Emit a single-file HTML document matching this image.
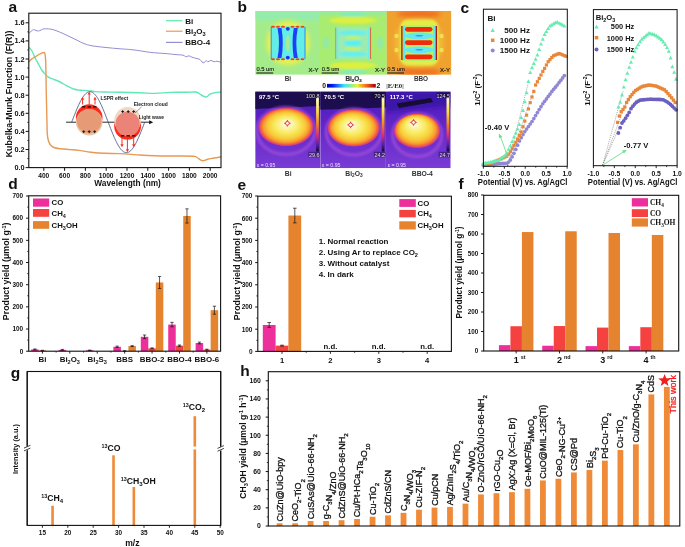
<!DOCTYPE html>
<html><head><meta charset="utf-8"><style>
html,body{margin:0;padding:0;background:#fff;}
svg{display:block;will-change:transform;}
</style></head><body>
<svg width="685" height="547" viewBox="0 0 685 547">
<rect width="685" height="547" fill="#fff"/>
<text x="8.50" y="11.80" font-size="15.5" text-anchor="start" font-weight="bold" fill="#111" font-family='"Liberation Sans", sans-serif' >a</text>
<path d="M28.80,33.30 C29.17,33.00 30.22,32.12 31.00,31.50 C31.78,30.88 32.67,29.77 33.50,29.60 C34.33,29.43 35.17,30.27 36.00,30.50 C36.83,30.73 37.67,31.08 38.50,31.00 C39.33,30.92 40.08,30.35 41.00,30.00 C41.92,29.65 42.50,29.07 44.00,28.90 C45.50,28.73 48.00,28.72 50.00,29.00 C52.00,29.28 53.83,29.85 56.00,30.60 C58.17,31.35 60.67,32.47 63.00,33.50 C65.33,34.53 67.67,35.68 70.00,36.80 C72.33,37.92 74.67,39.07 77.00,40.20 C79.33,41.33 81.50,42.67 84.00,43.60 C86.50,44.53 88.50,45.17 92.00,45.80 C95.50,46.43 100.33,46.90 105.00,47.40 C109.67,47.90 115.33,48.40 120.00,48.80 C124.67,49.20 127.88,49.20 133.00,49.80 C138.12,50.40 145.37,51.78 150.70,52.40 C156.03,53.02 160.95,53.15 165.00,53.50 C169.05,53.85 172.00,54.22 175.00,54.50 C178.00,54.78 181.17,54.82 183.00,55.20 C184.83,55.58 185.00,56.70 186.00,56.80 C187.00,56.90 188.00,55.73 189.00,55.80 C190.00,55.87 190.67,56.73 192.00,57.20 C193.33,57.67 195.67,58.22 197.00,58.60 C198.33,58.98 199.17,58.93 200.00,59.50 C200.83,60.07 201.33,61.45 202.00,62.00 C202.67,62.55 203.33,63.03 204.00,62.80 C204.67,62.57 205.33,60.77 206.00,60.60 C206.67,60.43 207.17,61.83 208.00,61.80 C208.83,61.77 210.00,60.40 211.00,60.40 C212.00,60.40 213.00,61.67 214.00,61.80 C215.00,61.93 215.83,61.10 217.00,61.20 C218.17,61.30 220.33,62.20 221.00,62.40" stroke="#928ed2" stroke-width="1.0" fill="none" />
<path d="M28.90,47.30 C29.42,47.92 30.98,49.25 32.00,51.00 C33.02,52.75 33.83,55.47 35.00,57.80 C36.17,60.13 37.83,62.88 39.00,65.00 C40.17,67.12 41.05,69.07 42.00,70.50 C42.95,71.93 43.70,72.55 44.70,73.60 C45.70,74.65 46.68,75.93 48.00,76.80 C49.32,77.67 50.60,77.93 52.60,78.80 C54.60,79.67 57.77,80.90 60.00,82.00 C62.23,83.10 63.73,84.23 66.00,85.40 C68.27,86.57 71.27,88.20 73.60,89.00 C75.93,89.80 77.67,89.93 80.00,90.20 C82.33,90.47 85.10,90.37 87.60,90.60 C90.10,90.83 92.10,91.37 95.00,91.60 C97.90,91.83 100.83,91.90 105.00,92.00 C109.17,92.10 114.17,92.07 120.00,92.20 C125.83,92.33 134.17,92.60 140.00,92.80 C145.83,93.00 150.00,93.47 155.00,93.40 C160.00,93.33 165.00,92.58 170.00,92.40 C175.00,92.22 180.78,92.37 185.00,92.30 C189.22,92.23 192.97,91.80 195.30,92.00 C197.63,92.20 197.72,92.83 199.00,93.50 C200.28,94.17 201.72,95.43 203.00,96.00 C204.28,96.57 205.53,97.20 206.70,96.90 C207.87,96.60 208.62,94.92 210.00,94.20 C211.38,93.48 213.17,92.97 215.00,92.60 C216.83,92.23 220.00,92.10 221.00,92.00" stroke="#5fe8b4" stroke-width="1.4" fill="none" />
<path d="M28.60,62.20 C29.00,61.77 29.93,60.47 31.00,59.60 C32.07,58.73 33.67,57.85 35.00,57.00 C36.33,56.15 37.68,55.20 39.00,54.50 C40.32,53.80 41.95,53.05 42.90,52.80 C43.85,52.55 44.27,52.13 44.70,53.00 C45.13,53.87 45.30,55.17 45.50,58.00 C45.70,60.83 45.78,64.67 45.90,70.00 C46.02,75.33 46.05,82.50 46.20,90.00 C46.35,97.50 46.62,107.70 46.80,115.00 C46.98,122.30 47.02,129.47 47.30,133.80 C47.58,138.13 47.92,139.10 48.50,141.00 C49.08,142.90 49.88,144.12 50.80,145.20 C51.72,146.28 52.53,146.92 54.00,147.50 C55.47,148.08 56.93,148.35 59.60,148.70 C62.27,149.05 66.80,149.32 70.00,149.60 C73.20,149.88 75.30,149.97 78.80,150.40 C82.30,150.83 86.63,151.72 91.00,152.20 C95.37,152.68 100.17,153.07 105.00,153.30 C109.83,153.53 114.17,153.32 120.00,153.60 C125.83,153.88 134.17,154.65 140.00,155.00 C145.83,155.35 149.17,155.53 155.00,155.70 C160.83,155.87 168.57,155.92 175.00,156.00 C181.43,156.08 189.93,155.95 193.60,156.20 C197.27,156.45 195.93,156.93 197.00,157.50 C198.07,158.07 198.97,159.05 200.00,159.60 C201.03,160.15 202.03,160.82 203.20,160.80 C204.37,160.78 205.53,159.90 207.00,159.50 C208.47,159.10 209.67,158.85 212.00,158.40 C214.33,157.95 219.50,157.07 221.00,156.80" stroke="#e89a55" stroke-width="1.4" fill="none" />
<line x1="66.10" y1="122.20" x2="150.00" y2="122.20" stroke="#111" stroke-width="0.9" />
<path d="M149.2,120.2 L153.2,122.2 L149.2,124.2 Z" stroke="none" stroke-width="1" fill="#111" />
<g>
<circle cx="89.2" cy="117.6" r="13.3" fill="#ff2a1c"/>
<circle cx="89.2" cy="122.2" r="13.2" fill="#e8c4a2"/>
<circle cx="89.2" cy="121.2" r="12.2" fill="#e69a76"/>
<circle cx="127.6" cy="126.2" r="13.4" fill="#ff2a1c"/>
<circle cx="127.6" cy="120.4" r="13.3" fill="#f0d8c4"/>
<circle cx="127.6" cy="124.0" r="12.2" fill="#ec8378"/>
</g>
<path d="M71.70,122.20 L72.31,120.60 L72.92,119.01 L73.53,117.43 L74.13,115.86 L74.74,114.31 L75.35,112.77 L75.96,111.27 L76.57,109.79 L77.17,108.35 L77.78,106.95 L78.39,105.59 L79.00,104.27 L79.61,103.01 L80.22,101.79 L80.83,100.63 L81.43,99.53 L82.04,98.50 L82.65,97.52 L83.26,96.62 L83.87,95.79 L84.48,95.02 L85.08,94.34 L85.69,93.73 L86.30,93.19 L86.91,92.74 L87.52,92.37 L88.12,92.08 L88.73,91.87 L89.34,91.74 L89.95,91.70 L90.56,91.74 L91.17,91.87 L91.78,92.08 L92.38,92.37 L92.99,92.74 L93.60,93.19 L94.21,93.73 L94.82,94.34 L95.43,95.02 L96.03,95.79 L96.64,96.62 L97.25,97.52 L97.86,98.50 L98.47,99.53 L99.08,100.63 L99.68,101.79 L100.29,103.01 L100.90,104.27 L101.51,105.59 L102.12,106.95 L102.72,108.35 L103.33,109.79 L103.94,111.27 L104.55,112.77 L105.16,114.31 L105.77,115.86 L106.38,117.43 L106.98,119.01 L107.59,120.60 L108.20,122.20 L108.81,123.80 L109.42,125.39 L110.03,126.97 L110.63,128.54 L111.24,130.09 L111.85,131.63 L112.46,133.13 L113.07,134.61 L113.68,136.05 L114.28,137.45 L114.89,138.81 L115.50,140.13 L116.11,141.39 L116.72,142.61 L117.33,143.77 L117.93,144.87 L118.54,145.90 L119.15,146.88 L119.76,147.78 L120.37,148.61 L120.97,149.38 L121.58,150.06 L122.19,150.67 L122.80,151.21 L123.41,151.66 L124.02,152.03 L124.62,152.32 L125.23,152.53 L125.84,152.66 L126.45,152.70 L127.06,152.66 L127.67,152.53 L128.28,152.32 L128.88,152.03 L129.49,151.66 L130.10,151.21 L130.71,150.67 L131.32,150.06 L131.93,149.38 L132.53,148.61 L133.14,147.78 L133.75,146.88 L134.36,145.90 L134.97,144.87 L135.57,143.77 L136.18,142.61 L136.79,141.39 L137.40,140.13 L138.01,138.81 L138.62,137.45 L139.23,136.05 L139.83,134.61 L140.44,133.13 L141.05,131.63 L141.66,130.09 L142.27,128.54 L142.88,126.97 L143.48,125.39 L144.09,123.80 L144.70,122.20" stroke="#2d3f73" stroke-width="0.75" fill="none" />
<rect x="81.90" y="106.25" width="3.40" height="1.30" fill="#111" />
<rect x="87.50" y="106.25" width="3.40" height="1.30" fill="#111" />
<rect x="93.10" y="106.25" width="3.40" height="1.30" fill="#111" />
<rect x="120.90" y="135.15" width="3.40" height="1.30" fill="#111" />
<rect x="126.50" y="135.15" width="3.40" height="1.30" fill="#111" />
<rect x="132.10" y="135.15" width="3.40" height="1.30" fill="#111" />
<rect x="82.30" y="131.25" width="2.80" height="0.90" fill="#111" />
<rect x="83.25" y="130.30" width="0.90" height="2.80" fill="#111" />
<rect x="87.80" y="131.25" width="2.80" height="0.90" fill="#111" />
<rect x="88.75" y="130.30" width="0.90" height="2.80" fill="#111" />
<rect x="93.30" y="131.25" width="2.80" height="0.90" fill="#111" />
<rect x="94.25" y="130.30" width="0.90" height="2.80" fill="#111" />
<rect x="121.30" y="111.15" width="2.80" height="0.90" fill="#111" />
<rect x="122.25" y="110.20" width="0.90" height="2.80" fill="#111" />
<rect x="126.80" y="111.15" width="2.80" height="0.90" fill="#111" />
<rect x="127.75" y="110.20" width="0.90" height="2.80" fill="#111" />
<rect x="132.30" y="111.15" width="2.80" height="0.90" fill="#111" />
<rect x="133.25" y="110.20" width="0.90" height="2.80" fill="#111" />
<line x1="82.60" y1="104.50" x2="82.60" y2="99.20" stroke="#ff2a1c" stroke-width="1.0" />
<path d="M81.0,99.7 L82.6,96.7 L84.19999999999999,99.7 Z" stroke="none" stroke-width="1" fill="#ff2a1c" />
<line x1="89.20" y1="104.50" x2="89.20" y2="94.10" stroke="#ff2a1c" stroke-width="1.0" />
<path d="M87.60000000000001,94.6 L89.2,91.6 L90.8,94.6 Z" stroke="none" stroke-width="1" fill="#ff2a1c" />
<line x1="95.00" y1="104.50" x2="95.00" y2="99.20" stroke="#ff2a1c" stroke-width="1.0" />
<path d="M93.4,99.7 L95.0,96.7 L96.6,99.7 Z" stroke="none" stroke-width="1" fill="#ff2a1c" />
<line x1="122.00" y1="137.20" x2="122.00" y2="144.70" stroke="#ff2a1c" stroke-width="1.0" />
<path d="M120.4,144.2 L122.0,147.2 L123.6,144.2 Z" stroke="none" stroke-width="1" fill="#ff2a1c" />
<line x1="127.40" y1="137.20" x2="127.40" y2="149.70" stroke="#ff2a1c" stroke-width="1.0" />
<path d="M125.80000000000001,149.2 L127.4,152.2 L129.0,149.2 Z" stroke="none" stroke-width="1" fill="#ff2a1c" />
<line x1="133.70" y1="137.20" x2="133.70" y2="144.70" stroke="#ff2a1c" stroke-width="1.0" />
<path d="M132.1,144.2 L133.7,147.2 L135.29999999999998,144.2 Z" stroke="none" stroke-width="1" fill="#ff2a1c" />
<text x="100.60" y="100.30" font-size="4.9" text-anchor="start" font-weight="bold" fill="#222" font-family='"Liberation Sans", sans-serif' >LSPR effect</text>
<text x="133.70" y="105.70" font-size="4.9" text-anchor="start" font-weight="bold" fill="#222" font-family='"Liberation Sans", sans-serif' >Electron cloud</text>
<text x="138.80" y="118.50" font-size="4.9" text-anchor="start" font-weight="bold" fill="#222" font-family='"Liberation Sans", sans-serif' >Light wave</text>
<line x1="141.50" y1="107.00" x2="135.00" y2="113.00" stroke="#333" stroke-width="0.5" />
<rect x="28.80" y="13.20" width="192.20" height="154.40" fill="none" stroke="#111" stroke-width="1.1"/>
<line x1="25.60" y1="167.60" x2="28.80" y2="167.60" stroke="#111" stroke-width="1" />
<text x="24.60" y="170.10" font-size="7.3" text-anchor="end" font-weight="bold" fill="#111" font-family='"Liberation Sans", sans-serif' >0.0</text>
<line x1="27.30" y1="158.55" x2="28.80" y2="158.55" stroke="#111" stroke-width="0.8" />
<line x1="25.60" y1="149.50" x2="28.80" y2="149.50" stroke="#111" stroke-width="1" />
<text x="24.60" y="152.00" font-size="7.3" text-anchor="end" font-weight="bold" fill="#111" font-family='"Liberation Sans", sans-serif' >0.2</text>
<line x1="27.30" y1="140.45" x2="28.80" y2="140.45" stroke="#111" stroke-width="0.8" />
<line x1="25.60" y1="131.40" x2="28.80" y2="131.40" stroke="#111" stroke-width="1" />
<text x="24.60" y="133.90" font-size="7.3" text-anchor="end" font-weight="bold" fill="#111" font-family='"Liberation Sans", sans-serif' >0.4</text>
<line x1="27.30" y1="122.35" x2="28.80" y2="122.35" stroke="#111" stroke-width="0.8" />
<line x1="25.60" y1="113.30" x2="28.80" y2="113.30" stroke="#111" stroke-width="1" />
<text x="24.60" y="115.80" font-size="7.3" text-anchor="end" font-weight="bold" fill="#111" font-family='"Liberation Sans", sans-serif' >0.6</text>
<line x1="27.30" y1="104.25" x2="28.80" y2="104.25" stroke="#111" stroke-width="0.8" />
<line x1="25.60" y1="95.20" x2="28.80" y2="95.20" stroke="#111" stroke-width="1" />
<text x="24.60" y="97.70" font-size="7.3" text-anchor="end" font-weight="bold" fill="#111" font-family='"Liberation Sans", sans-serif' >0.8</text>
<line x1="27.30" y1="86.15" x2="28.80" y2="86.15" stroke="#111" stroke-width="0.8" />
<line x1="25.60" y1="77.10" x2="28.80" y2="77.10" stroke="#111" stroke-width="1" />
<text x="24.60" y="79.60" font-size="7.3" text-anchor="end" font-weight="bold" fill="#111" font-family='"Liberation Sans", sans-serif' >1.0</text>
<line x1="27.30" y1="68.05" x2="28.80" y2="68.05" stroke="#111" stroke-width="0.8" />
<line x1="25.60" y1="59.00" x2="28.80" y2="59.00" stroke="#111" stroke-width="1" />
<text x="24.60" y="61.50" font-size="7.3" text-anchor="end" font-weight="bold" fill="#111" font-family='"Liberation Sans", sans-serif' >1.2</text>
<line x1="27.30" y1="49.95" x2="28.80" y2="49.95" stroke="#111" stroke-width="0.8" />
<line x1="25.60" y1="40.90" x2="28.80" y2="40.90" stroke="#111" stroke-width="1" />
<text x="24.60" y="43.40" font-size="7.3" text-anchor="end" font-weight="bold" fill="#111" font-family='"Liberation Sans", sans-serif' >1.4</text>
<line x1="27.30" y1="31.85" x2="28.80" y2="31.85" stroke="#111" stroke-width="0.8" />
<line x1="25.60" y1="22.80" x2="28.80" y2="22.80" stroke="#111" stroke-width="1" />
<text x="24.60" y="25.30" font-size="7.3" text-anchor="end" font-weight="bold" fill="#111" font-family='"Liberation Sans", sans-serif' >1.6</text>
<line x1="43.80" y1="167.60" x2="43.80" y2="170.80" stroke="#111" stroke-width="1" />
<text x="43.80" y="177.90" font-size="6.6" text-anchor="middle" font-weight="bold" fill="#111" font-family='"Liberation Sans", sans-serif' >400</text>
<line x1="64.60" y1="167.60" x2="64.60" y2="170.80" stroke="#111" stroke-width="1" />
<text x="64.60" y="177.90" font-size="6.6" text-anchor="middle" font-weight="bold" fill="#111" font-family='"Liberation Sans", sans-serif' >600</text>
<line x1="85.40" y1="167.60" x2="85.40" y2="170.80" stroke="#111" stroke-width="1" />
<text x="85.40" y="177.90" font-size="6.6" text-anchor="middle" font-weight="bold" fill="#111" font-family='"Liberation Sans", sans-serif' >800</text>
<line x1="106.20" y1="167.60" x2="106.20" y2="170.80" stroke="#111" stroke-width="1" />
<text x="106.20" y="177.90" font-size="6.6" text-anchor="middle" font-weight="bold" fill="#111" font-family='"Liberation Sans", sans-serif' >1000</text>
<line x1="127.00" y1="167.60" x2="127.00" y2="170.80" stroke="#111" stroke-width="1" />
<text x="127.00" y="177.90" font-size="6.6" text-anchor="middle" font-weight="bold" fill="#111" font-family='"Liberation Sans", sans-serif' >1200</text>
<line x1="147.80" y1="167.60" x2="147.80" y2="170.80" stroke="#111" stroke-width="1" />
<text x="147.80" y="177.90" font-size="6.6" text-anchor="middle" font-weight="bold" fill="#111" font-family='"Liberation Sans", sans-serif' >1400</text>
<line x1="168.60" y1="167.60" x2="168.60" y2="170.80" stroke="#111" stroke-width="1" />
<text x="168.60" y="177.90" font-size="6.6" text-anchor="middle" font-weight="bold" fill="#111" font-family='"Liberation Sans", sans-serif' >1600</text>
<line x1="189.40" y1="167.60" x2="189.40" y2="170.80" stroke="#111" stroke-width="1" />
<text x="189.40" y="177.90" font-size="6.6" text-anchor="middle" font-weight="bold" fill="#111" font-family='"Liberation Sans", sans-serif' >1800</text>
<line x1="210.20" y1="167.60" x2="210.20" y2="170.80" stroke="#111" stroke-width="1" />
<text x="210.20" y="177.90" font-size="6.6" text-anchor="middle" font-weight="bold" fill="#111" font-family='"Liberation Sans", sans-serif' >2000</text>
<text x="127.60" y="186.30" font-size="8.3" text-anchor="middle" font-weight="bold" fill="#111" font-family='"Liberation Sans", sans-serif' >Wavelength (nm)</text>
<text x="0.00" y="0.00" font-size="8.9" text-anchor="middle" font-weight="bold" fill="#111" font-family='"Liberation Sans", sans-serif' transform="translate(11.6,94.0) rotate(-90)">Kubelka-Munk Function (F(R))</text>
<line x1="166.00" y1="20.70" x2="182.50" y2="20.70" stroke="#5fe8b4" stroke-width="1.2" />
<line x1="166.00" y1="31.20" x2="182.50" y2="31.20" stroke="#e89a55" stroke-width="1.2" />
<line x1="166.00" y1="42.40" x2="182.50" y2="42.40" stroke="#928ed2" stroke-width="1.2" />
<text x="185.20" y="23.70" font-size="8.0" text-anchor="start" font-weight="bold" fill="#111" font-family='"Liberation Sans", sans-serif' >Bi</text>
<text x="185.20" y="34.20" font-size="8.0" text-anchor="start" font-weight="bold" fill="#111" font-family='"Liberation Sans", sans-serif' >Bi<tspan font-size="5.6" dy="2.2">2</tspan><tspan dy="-2.2">O</tspan><tspan font-size="5.6" dy="2.2">3</tspan></text>
<text x="185.20" y="45.40" font-size="8.0" text-anchor="start" font-weight="bold" fill="#111" font-family='"Liberation Sans", sans-serif' >BBO-4</text>
<defs>
<radialGradient id="halo1" cx="50%" cy="50%" r="50%"><stop offset="0" stop-color="#e8f050"/><stop offset="0.62" stop-color="#e4f058"/><stop offset="1" stop-color="#a6ec88" stop-opacity="0"/></radialGradient>
<linearGradient id="cbar" x1="0" x2="1" y1="0" y2="0"><stop offset="0" stop-color="#0000a0"/><stop offset="0.12" stop-color="#0020ff"/><stop offset="0.35" stop-color="#40e0ff"/><stop offset="0.5" stop-color="#90f090"/><stop offset="0.62" stop-color="#f0f030"/><stop offset="0.8" stop-color="#f07018"/><stop offset="1" stop-color="#a00010"/></linearGradient>
<radialGradient id="hot" cx="50%" cy="50%" r="50%" fx="52%" fy="38%"><stop offset="0" stop-color="#fffff4"/><stop offset="0.18" stop-color="#fdf6b4"/><stop offset="0.46" stop-color="#f8e858"/><stop offset="0.68" stop-color="#f8c838"/><stop offset="0.82" stop-color="#f89a30"/><stop offset="0.91" stop-color="#f06040"/><stop offset="0.97" stop-color="#c83898"/><stop offset="1" stop-color="#8830c8" stop-opacity="0.3"/></radialGradient>
<linearGradient id="tbar" x1="0" x2="0" y1="0" y2="1"><stop offset="0" stop-color="#ffffd0"/><stop offset="0.25" stop-color="#f8e040"/><stop offset="0.5" stop-color="#f08020"/><stop offset="0.7" stop-color="#d03080"/><stop offset="0.88" stop-color="#5020a0"/><stop offset="1" stop-color="#100830"/></linearGradient>
<radialGradient id="bbohalo" cx="50%" cy="50%" r="50%"><stop offset="0" stop-color="#f0e040"/><stop offset="0.7" stop-color="#f0c040"/><stop offset="1" stop-color="#f0a030" stop-opacity="0"/></radialGradient>
<radialGradient id="cyanlens" cx="50%" cy="50%" r="50%"><stop offset="0" stop-color="#50b8ff"/><stop offset="0.3" stop-color="#60e8f0"/><stop offset="0.8" stop-color="#80f0c8"/><stop offset="1" stop-color="#b0f070" stop-opacity="0"/></radialGradient>
<linearGradient id="tbg" x1="0" x2="0" y1="0" y2="1"><stop offset="0" stop-color="#4a18b8"/><stop offset="0.6" stop-color="#6a2ccc"/><stop offset="1" stop-color="#7a3cd4"/></linearGradient>
<filter id="blur1" x="-20%" y="-20%" width="140%" height="140%"><feGaussianBlur stdDeviation="1.2"/></filter>
<filter id="blur05" x="-20%" y="-20%" width="140%" height="140%"><feGaussianBlur stdDeviation="0.5"/></filter>
<filter id="blur2" x="-30%" y="-30%" width="160%" height="160%"><feGaussianBlur stdDeviation="2.2"/></filter>
<clipPath id="m1"><rect x="255.2" y="11" width="65.2" height="63.8"/></clipPath>
<clipPath id="m2"><rect x="319.6" y="11" width="67.3" height="63.8"/></clipPath>
<clipPath id="m3"><rect x="386.5" y="11" width="64.9" height="63.8"/></clipPath>
<clipPath id="t1"><rect x="255.2" y="91.4" width="65.5" height="76.8"/></clipPath>
<clipPath id="t2"><rect x="320.1" y="91.4" width="66.1" height="76.8"/></clipPath>
<clipPath id="t3"><rect x="385.9" y="91.4" width="64.8" height="76.8"/></clipPath>
</defs>
<text x="237.60" y="12.20" font-size="15.5" text-anchor="start" font-weight="bold" fill="#111" font-family='"Liberation Sans", sans-serif' >b</text>
<g clip-path="url(#m1)">
<rect x="255.20" y="11.00" width="65.20" height="63.80" fill="#a4ec8a" />
<rect x="255.20" y="11.00" width="64.60" height="9.00" fill="#92ecb0" filter="url(#blur2)"/>
<ellipse cx="288" cy="43" rx="26" ry="28" fill="url(#halo1)"/>
<ellipse cx="288" cy="43" rx="21" ry="21" fill="#e6f050" filter="url(#blur2)"/>
<g filter="url(#blur05)">
<rect x="270.90" y="26.30" width="34.40" height="33.20" fill="#62eee6" />
<path d="M277.5,28 Q280.5,43 277.5,58 L281.5,58 Q284,43 281.5,28 Z" stroke="none" stroke-width="1" fill="#1a40f8" />
<path d="M297.8,28 Q294.8,43 297.8,58 L293.8,58 Q291.3,43 293.8,28 Z" stroke="none" stroke-width="1" fill="#1a40f8" />
<ellipse cx="287.8" cy="43.5" rx="1.8" ry="8.5" fill="#a8ec90"/>
<circle cx="287.8" cy="28.8" r="1.9" fill="#1a30f0"/><circle cx="287.8" cy="57.6" r="1.9" fill="#1a30f0"/>
<ellipse cx="273" cy="26.8" rx="2" ry="1" fill="#f04018"/><ellipse cx="273" cy="59.2" rx="2" ry="1" fill="#f04018"/>
<ellipse cx="278" cy="26.8" rx="2" ry="1" fill="#f04018"/><ellipse cx="278" cy="59.2" rx="2" ry="1" fill="#f04018"/>
<ellipse cx="283" cy="26.8" rx="2" ry="1" fill="#f04018"/><ellipse cx="283" cy="59.2" rx="2" ry="1" fill="#f04018"/>
<ellipse cx="292.5" cy="26.8" rx="2" ry="1" fill="#f04018"/><ellipse cx="292.5" cy="59.2" rx="2" ry="1" fill="#f04018"/>
<ellipse cx="297.5" cy="26.8" rx="2" ry="1" fill="#f04018"/><ellipse cx="297.5" cy="59.2" rx="2" ry="1" fill="#f04018"/>
<ellipse cx="302.5" cy="26.8" rx="2" ry="1" fill="#f04018"/><ellipse cx="302.5" cy="59.2" rx="2" ry="1" fill="#f04018"/>
<line x1="271.20" y1="27.00" x2="271.20" y2="59.00" stroke="#2060f0" stroke-width="0.7" />
<line x1="305.00" y1="27.00" x2="305.00" y2="59.00" stroke="#2060f0" stroke-width="0.7" />
</g></g>
<g clip-path="url(#m2)">
<rect x="319.60" y="11.00" width="67.30" height="63.80" fill="#a8ec72" />
<g filter="url(#blur1)">
<rect x="319.80" y="11.00" width="66.70" height="4.00" fill="#98ec98" />
<ellipse cx="353" cy="14.5" rx="14" ry="2" fill="#80ecc0"/>
<ellipse cx="353" cy="72" rx="14" ry="2" fill="#80ecc0"/>
<ellipse cx="353" cy="20.5" rx="24" ry="3.4" fill="#dcf040"/>
<ellipse cx="353" cy="65.5" rx="24" ry="3.4" fill="#dcf040"/>
<rect x="336.50" y="27.50" width="33.50" height="31.50" fill="#9cecb0" />
<ellipse cx="353" cy="33.0" rx="15" ry="3.0" fill="#6aeee8"/>
<ellipse cx="353" cy="54.0" rx="15" ry="3.0" fill="#6aeee8"/>
<ellipse cx="353" cy="43.3" rx="9" ry="3.2" fill="#5ceef0"/>
<ellipse cx="353" cy="37.8" rx="8" ry="1.8" fill="#c8f058"/>
<ellipse cx="353" cy="49.0" rx="8" ry="1.8" fill="#c8f058"/>
<ellipse cx="326" cy="43" rx="3" ry="6" fill="#90eaa8"/><ellipse cx="380" cy="43" rx="3" ry="6" fill="#90eaa8"/>
</g>
<rect x="336.30" y="27.50" width="2.20" height="31.50" fill="#70eee8" />
<rect x="368.00" y="27.50" width="2.20" height="31.50" fill="#70eee8" />
<line x1="335.70" y1="27.50" x2="335.70" y2="59.00" stroke="#f07030" stroke-width="0.8" />
<line x1="370.60" y1="27.50" x2="370.60" y2="59.00" stroke="#f04020" stroke-width="0.8" />
</g>
<g clip-path="url(#m3)">
<rect x="386.50" y="11.00" width="64.90" height="63.80" fill="#f0a22e" />
<g filter="url(#blur2)">
<ellipse cx="419" cy="14" rx="22" ry="4" fill="#f07020"/>
<ellipse cx="419" cy="72" rx="22" ry="4" fill="#f07020"/>
<ellipse cx="419" cy="43" rx="25" ry="25" fill="#f0b838"/>
</g>
<g filter="url(#blur05)">
</g>
<rect x="400.00" y="19.50" width="38.40" height="46.00" fill="#e4ec48" rx="8" filter="url(#blur1)"/>
<g filter="url(#blur05)">
<rect x="402.50" y="25.00" width="33.40" height="36.00" fill="#b8f068" />
<ellipse cx="419.2" cy="35.8" rx="14.5" ry="3.4" fill="#64e8f0"/>
<ellipse cx="419.2" cy="49.8" rx="14.5" ry="3.4" fill="#64e8f0"/>
<ellipse cx="419.2" cy="35.8" rx="4" ry="0.8" fill="#3890ff"/>
<ellipse cx="419.2" cy="49.8" rx="4" ry="0.8" fill="#3890ff"/>
<rect x="403.00" y="26.00" width="2.20" height="34.00" fill="#60e8f0" />
<rect x="433.20" y="26.00" width="2.20" height="34.00" fill="#60e8f0" />
<rect x="405.00" y="26.90" width="27.50" height="4.80" fill="#f22a0a" rx="2.4"/>
<rect x="405.00" y="40.20" width="27.50" height="4.80" fill="#f22a0a" rx="2.4"/>
<rect x="405.00" y="54.40" width="27.50" height="4.80" fill="#f22a0a" rx="2.4"/>
<circle cx="396.5" cy="36" r="2.2" fill="#f0e050"/><circle cx="441.5" cy="36" r="2.2" fill="#f0e050"/>
<circle cx="396.5" cy="50" r="2.2" fill="#f0e050"/><circle cx="441.5" cy="50" r="2.2" fill="#f0e050"/>
</g>
<line x1="401.90" y1="26.00" x2="401.90" y2="60.00" stroke="#a01010" stroke-width="1.3" />
<line x1="436.30" y1="26.00" x2="436.30" y2="60.00" stroke="#a01010" stroke-width="1.3" />
</g>
<text x="256.40" y="71.20" font-size="5.8" text-anchor="start" font-weight="normal" fill="#222" font-family='"Liberation Sans", sans-serif' stroke="#222" stroke-width="0.15">0.5 um</text>
<line x1="256.40" y1="73.00" x2="273.20" y2="73.00" stroke="#222" stroke-width="1.1" />
<text x="318.60" y="72.20" font-size="6.0" text-anchor="end" font-weight="normal" fill="#222" font-family='"Liberation Sans", sans-serif' stroke="#222" stroke-width="0.2">X-Y</text>
<text x="321.70" y="71.20" font-size="5.8" text-anchor="start" font-weight="normal" fill="#222" font-family='"Liberation Sans", sans-serif' stroke="#222" stroke-width="0.15">0.5 um</text>
<line x1="321.70" y1="73.00" x2="338.50" y2="73.00" stroke="#222" stroke-width="1.1" />
<text x="385.00" y="72.20" font-size="6.0" text-anchor="end" font-weight="normal" fill="#222" font-family='"Liberation Sans", sans-serif' stroke="#222" stroke-width="0.2">X-Y</text>
<text x="387.20" y="71.20" font-size="5.8" text-anchor="start" font-weight="normal" fill="#222" font-family='"Liberation Sans", sans-serif' stroke="#222" stroke-width="0.15">0.5 um</text>
<line x1="387.20" y1="73.00" x2="404.00" y2="73.00" stroke="#222" stroke-width="1.1" />
<text x="450.00" y="72.20" font-size="6.0" text-anchor="end" font-weight="normal" fill="#222" font-family='"Liberation Sans", sans-serif' stroke="#222" stroke-width="0.2">X-Y</text>
<text x="287.90" y="81.40" font-size="6.4" text-anchor="middle" font-weight="bold" fill="#333" font-family='"Liberation Sans", sans-serif' >Bi</text>
<text x="353.60" y="81.00" font-size="6.4" text-anchor="middle" font-weight="bold" fill="#333" font-family='"Liberation Sans", sans-serif' stroke="#333" stroke-width="0.2">Bi<tspan font-size="4.4" dy="1.4">2</tspan><tspan dy="-1.4">O</tspan><tspan font-size="4.4" dy="1.4">3</tspan></text>
<text x="421.00" y="81.00" font-size="6.4" text-anchor="middle" font-weight="bold" fill="#333" font-family='"Liberation Sans", sans-serif' >BBO</text>
<text x="324.20" y="88.00" font-size="6.8" text-anchor="middle" font-weight="bold" fill="#111" font-family='"Liberation Sans", sans-serif' >0</text>
<rect x="327.00" y="83.90" width="48.80" height="3.70" fill="url(#cbar)" />
<text x="378.50" y="88.00" font-size="6.8" text-anchor="middle" font-weight="bold" fill="#111" font-family='"Liberation Sans", sans-serif' >2</text>
<text x="386.30" y="88.20" font-size="6.8" text-anchor="start" font-weight="bold" fill="#222" font-family='"Liberation Serif", serif' >|E/E0|</text>
<g clip-path="url(#t1)">
<rect x="255.20" y="91.40" width="65.10" height="76.80" fill="url(#tbg)" />
<path d="M255.2,91.4 L320.3,91.4 L320.3,106 L255.2,109 Z" stroke="none" stroke-width="1" fill="#1c1050" filter="url(#blur05)"/>
<ellipse cx="286.0" cy="131.0" rx="29.0" ry="23.5" fill="none" stroke="#a050d8" stroke-width="3.5" opacity="0.7" filter="url(#blur1)"/>
<defs><radialGradient id="hott1" cx="50%" cy="50%" r="50%" fx="52.5%" fy="40.5%"><stop offset="0" stop-color="#fffff4"/><stop offset="0.18" stop-color="#fdf6b4"/><stop offset="0.46" stop-color="#f8e858"/><stop offset="0.68" stop-color="#f8c838"/><stop offset="0.82" stop-color="#f89a30"/><stop offset="0.91" stop-color="#f06040"/><stop offset="0.97" stop-color="#c83898"/><stop offset="1" stop-color="#8830c8" stop-opacity="0.3"/></radialGradient></defs>
<ellipse cx="286.0" cy="127.0" rx="28.0" ry="19.5" fill="url(#hott1)"/>
<circle cx="287.4" cy="123.3" r="1.9" fill="none" stroke="#e02040" stroke-width="0.9"/>
<line x1="287.40" y1="121.40" x2="287.40" y2="120.00" stroke="#e02040" stroke-width="0.8" />
<line x1="287.40" y1="125.20" x2="287.40" y2="126.60" stroke="#e02040" stroke-width="0.8" />
<line x1="285.50" y1="123.30" x2="284.10" y2="123.30" stroke="#e02040" stroke-width="0.8" />
<line x1="289.30" y1="123.30" x2="290.70" y2="123.30" stroke="#e02040" stroke-width="0.8" />
<rect x="316.10" y="98.00" width="2.80" height="53.50" fill="url(#tbar)" />
<text x="259.00" y="99.30" font-size="6.0" text-anchor="start" font-weight="bold" fill="#fff" font-family='"Liberation Sans", sans-serif' >97.5 °C</text>
<rect x="306.30" y="92.50" width="13.50" height="5.60" fill="#181030" opacity="0.8"/>
<text x="319.50" y="97.60" font-size="5.4" text-anchor="end" font-weight="normal" fill="#ddd" font-family='"Liberation Sans", sans-serif' >100.8</text>
<rect x="308.30" y="151.80" width="11.50" height="5.60" fill="#181030" opacity="0.5"/>
<text x="319.50" y="156.60" font-size="5.4" text-anchor="end" font-weight="normal" fill="#ddd" font-family='"Liberation Sans", sans-serif' >29.6</text>
<text x="257.00" y="167.20" font-size="5.2" text-anchor="start" font-weight="normal" fill="#e8e0ff" font-family='"Liberation Sans", sans-serif' >ε = 0.95</text>
</g>
<g clip-path="url(#t2)">
<rect x="320.30" y="91.40" width="65.60" height="76.80" fill="url(#tbg)" />
<path d="M320.3,91.4 L385.9,91.4 L385.9,107.6 L320.3,109.7 Z" stroke="none" stroke-width="1" fill="#1c1050" filter="url(#blur05)"/>
<ellipse cx="353.8" cy="132.0" rx="27.5" ry="22.9" fill="none" stroke="#a050d8" stroke-width="3.5" opacity="0.7" filter="url(#blur1)"/>
<defs><radialGradient id="hott2" cx="50%" cy="50%" r="50%" fx="44.0%" fy="41.8%"><stop offset="0" stop-color="#fffff4"/><stop offset="0.18" stop-color="#fdf6b4"/><stop offset="0.46" stop-color="#f8e858"/><stop offset="0.68" stop-color="#f8c838"/><stop offset="0.82" stop-color="#f89a30"/><stop offset="0.91" stop-color="#f06040"/><stop offset="0.97" stop-color="#c83898"/><stop offset="1" stop-color="#8830c8" stop-opacity="0.3"/></radialGradient></defs>
<ellipse cx="353.8" cy="128.0" rx="26.5" ry="18.9" fill="url(#hott2)"/>
<circle cx="350.6" cy="124.9" r="1.9" fill="none" stroke="#e02040" stroke-width="0.9"/>
<line x1="350.60" y1="123.00" x2="350.60" y2="121.60" stroke="#e02040" stroke-width="0.8" />
<line x1="350.60" y1="126.80" x2="350.60" y2="128.20" stroke="#e02040" stroke-width="0.8" />
<line x1="348.70" y1="124.90" x2="347.30" y2="124.90" stroke="#e02040" stroke-width="0.8" />
<line x1="352.50" y1="124.90" x2="353.90" y2="124.90" stroke="#e02040" stroke-width="0.8" />
<rect x="381.70" y="98.00" width="2.80" height="53.50" fill="url(#tbar)" />
<text x="324.10" y="99.30" font-size="6.0" text-anchor="start" font-weight="bold" fill="#fff" font-family='"Liberation Sans", sans-serif' >70.5 °C</text>
<rect x="371.90" y="92.50" width="13.50" height="5.60" fill="#181030" opacity="0.8"/>
<text x="385.10" y="97.60" font-size="5.4" text-anchor="end" font-weight="normal" fill="#ddd" font-family='"Liberation Sans", sans-serif' >70.5</text>
<rect x="373.90" y="151.80" width="11.50" height="5.60" fill="#181030" opacity="0.5"/>
<text x="385.10" y="156.60" font-size="5.4" text-anchor="end" font-weight="normal" fill="#ddd" font-family='"Liberation Sans", sans-serif' >24.2</text>
<text x="322.10" y="167.20" font-size="5.2" text-anchor="start" font-weight="normal" fill="#e8e0ff" font-family='"Liberation Sans", sans-serif' >ε = 0.95</text>
</g>
<g clip-path="url(#t3)">
<rect x="385.90" y="91.40" width="64.80" height="76.80" fill="url(#tbg)" />
<path d="M385.9,91.4 L450.7,91.4 L450.7,105.4 L385.9,111.4 Z" stroke="none" stroke-width="1" fill="#3a18a8" filter="url(#blur2)"/>
<path d="M396.9,103.4 L430.9,97.9 L432.9,101.9 L398.9,107.9 Z" stroke="none" stroke-width="1" fill="#140a30" filter="url(#blur05)"/>
<ellipse cx="417.2" cy="135.0" rx="24.5" ry="21.5" fill="none" stroke="#a050d8" stroke-width="3.5" opacity="0.7" filter="url(#blur1)"/>
<defs><radialGradient id="hott3" cx="50%" cy="50%" r="50%" fx="42.1%" fy="25.4%"><stop offset="0" stop-color="#fffff4"/><stop offset="0.18" stop-color="#fdf6b4"/><stop offset="0.46" stop-color="#f8e858"/><stop offset="0.68" stop-color="#f8c838"/><stop offset="0.82" stop-color="#f89a30"/><stop offset="0.91" stop-color="#f06040"/><stop offset="0.97" stop-color="#c83898"/><stop offset="1" stop-color="#8830c8" stop-opacity="0.3"/></radialGradient></defs>
<ellipse cx="417.2" cy="131.0" rx="23.5" ry="17.5" fill="url(#hott3)"/>
<circle cx="413.5" cy="122.4" r="1.9" fill="none" stroke="#e02040" stroke-width="0.9"/>
<line x1="413.50" y1="120.50" x2="413.50" y2="119.10" stroke="#e02040" stroke-width="0.8" />
<line x1="413.50" y1="124.30" x2="413.50" y2="125.70" stroke="#e02040" stroke-width="0.8" />
<line x1="411.60" y1="122.40" x2="410.20" y2="122.40" stroke="#e02040" stroke-width="0.8" />
<line x1="415.40" y1="122.40" x2="416.80" y2="122.40" stroke="#e02040" stroke-width="0.8" />
<rect x="446.50" y="98.00" width="2.80" height="53.50" fill="url(#tbar)" />
<text x="389.70" y="99.30" font-size="6.0" text-anchor="start" font-weight="bold" fill="#fff" font-family='"Liberation Sans", sans-serif' >117.3 °C</text>
<rect x="436.70" y="92.50" width="13.50" height="5.60" fill="#181030" opacity="0.8"/>
<text x="449.90" y="97.60" font-size="5.4" text-anchor="end" font-weight="normal" fill="#ddd" font-family='"Liberation Sans", sans-serif' >124.5</text>
<rect x="438.70" y="151.80" width="11.50" height="5.60" fill="#181030" opacity="0.5"/>
<text x="449.90" y="156.60" font-size="5.4" text-anchor="end" font-weight="normal" fill="#ddd" font-family='"Liberation Sans", sans-serif' >24.7</text>
<text x="387.70" y="167.20" font-size="5.2" text-anchor="start" font-weight="normal" fill="#e8e0ff" font-family='"Liberation Sans", sans-serif' >ε = 0.95</text>
</g>
<text x="288.20" y="176.00" font-size="6.8" text-anchor="middle" font-weight="bold" fill="#333" font-family='"Liberation Sans", sans-serif' >Bi</text>
<text x="354.00" y="176.00" font-size="6.8" text-anchor="middle" font-weight="bold" fill="#333" font-family='"Liberation Sans", sans-serif' >Bi<tspan font-size="4.8" dy="1.4">2</tspan><tspan dy="-1.4">O</tspan><tspan font-size="4.8" dy="1.4">3</tspan></text>
<text x="422.30" y="176.00" font-size="6.8" text-anchor="middle" font-weight="bold" fill="#333" font-family='"Liberation Sans", sans-serif' >BBO-4</text>
<text x="460.60" y="13.30" font-size="15.5" text-anchor="start" font-weight="bold" fill="#111" font-family='"Liberation Sans", sans-serif' >c</text>
<line x1="507.50" y1="166.00" x2="528.00" y2="84.00" stroke="#555" stroke-width="0.5" stroke-dasharray="1,1"/>
<line x1="507.50" y1="166.00" x2="534.00" y2="90.00" stroke="#555" stroke-width="0.5" stroke-dasharray="1,1"/>
<line x1="507.50" y1="166.00" x2="526.00" y2="120.00" stroke="#555" stroke-width="0.5" stroke-dasharray="1,1"/>
<circle cx="483.40" cy="165.20" r="1.85" fill="#9088d4"/>
<circle cx="485.20" cy="165.01" r="1.85" fill="#9088d4"/>
<circle cx="487.00" cy="164.82" r="1.85" fill="#9088d4"/>
<circle cx="488.80" cy="164.63" r="1.85" fill="#9088d4"/>
<circle cx="490.60" cy="164.44" r="1.85" fill="#9088d4"/>
<circle cx="492.40" cy="164.25" r="1.85" fill="#9088d4"/>
<circle cx="494.20" cy="164.07" r="1.85" fill="#9088d4"/>
<circle cx="496.00" cy="163.89" r="1.85" fill="#9088d4"/>
<circle cx="497.80" cy="163.70" r="1.85" fill="#9088d4"/>
<circle cx="499.60" cy="163.56" r="1.85" fill="#9088d4"/>
<circle cx="501.40" cy="163.48" r="1.85" fill="#9088d4"/>
<circle cx="503.20" cy="163.40" r="1.85" fill="#9088d4"/>
<circle cx="505.00" cy="163.32" r="1.85" fill="#9088d4"/>
<circle cx="506.80" cy="163.24" r="1.85" fill="#9088d4"/>
<circle cx="508.60" cy="162.02" r="1.85" fill="#9088d4"/>
<circle cx="510.40" cy="159.91" r="1.85" fill="#9088d4"/>
<circle cx="512.20" cy="156.87" r="1.85" fill="#9088d4"/>
<circle cx="514.00" cy="153.37" r="1.85" fill="#9088d4"/>
<circle cx="515.80" cy="149.38" r="1.85" fill="#9088d4"/>
<circle cx="517.60" cy="145.16" r="1.85" fill="#9088d4"/>
<circle cx="519.40" cy="140.94" r="1.85" fill="#9088d4"/>
<circle cx="521.20" cy="137.63" r="1.85" fill="#9088d4"/>
<circle cx="523.00" cy="134.58" r="1.85" fill="#9088d4"/>
<circle cx="524.80" cy="131.54" r="1.85" fill="#9088d4"/>
<circle cx="526.60" cy="128.98" r="1.85" fill="#9088d4"/>
<circle cx="528.40" cy="126.49" r="1.85" fill="#9088d4"/>
<circle cx="530.20" cy="123.99" r="1.85" fill="#9088d4"/>
<circle cx="532.00" cy="121.50" r="1.85" fill="#9088d4"/>
<circle cx="533.80" cy="118.53" r="1.85" fill="#9088d4"/>
<circle cx="535.60" cy="115.56" r="1.85" fill="#9088d4"/>
<circle cx="537.40" cy="112.58" r="1.85" fill="#9088d4"/>
<circle cx="539.20" cy="109.61" r="1.85" fill="#9088d4"/>
<circle cx="541.00" cy="106.64" r="1.85" fill="#9088d4"/>
<circle cx="542.80" cy="103.73" r="1.85" fill="#9088d4"/>
<circle cx="544.60" cy="101.31" r="1.85" fill="#9088d4"/>
<circle cx="546.40" cy="98.88" r="1.85" fill="#9088d4"/>
<circle cx="548.20" cy="96.46" r="1.85" fill="#9088d4"/>
<circle cx="550.00" cy="94.04" r="1.85" fill="#9088d4"/>
<circle cx="551.80" cy="91.62" r="1.85" fill="#9088d4"/>
<circle cx="553.60" cy="89.30" r="1.85" fill="#9088d4"/>
<circle cx="555.40" cy="87.20" r="1.85" fill="#9088d4"/>
<circle cx="557.20" cy="85.01" r="1.85" fill="#9088d4"/>
<circle cx="559.00" cy="82.66" r="1.85" fill="#9088d4"/>
<circle cx="560.80" cy="80.30" r="1.85" fill="#9088d4"/>
<circle cx="562.60" cy="77.95" r="1.85" fill="#9088d4"/>
<circle cx="564.40" cy="75.59" r="1.85" fill="#9088d4"/>
<rect x="481.80" y="162.90" width="3.20" height="3.20" fill="#e8873a" />
<rect x="483.60" y="162.65" width="3.20" height="3.20" fill="#e8873a" />
<rect x="485.40" y="162.41" width="3.20" height="3.20" fill="#e8873a" />
<rect x="487.20" y="162.16" width="3.20" height="3.20" fill="#e8873a" />
<rect x="489.00" y="161.75" width="3.20" height="3.20" fill="#e8873a" />
<rect x="490.80" y="161.00" width="3.20" height="3.20" fill="#e8873a" />
<rect x="492.60" y="160.26" width="3.20" height="3.20" fill="#e8873a" />
<rect x="494.40" y="159.51" width="3.20" height="3.20" fill="#e8873a" />
<rect x="496.20" y="158.76" width="3.20" height="3.20" fill="#e8873a" />
<rect x="498.00" y="158.02" width="3.20" height="3.20" fill="#e8873a" />
<rect x="499.80" y="157.20" width="3.20" height="3.20" fill="#e8873a" />
<rect x="501.60" y="156.30" width="3.20" height="3.20" fill="#e8873a" />
<rect x="503.40" y="155.40" width="3.20" height="3.20" fill="#e8873a" />
<rect x="505.20" y="154.50" width="3.20" height="3.20" fill="#e8873a" />
<rect x="507.00" y="152.54" width="3.20" height="3.20" fill="#e8873a" />
<rect x="508.80" y="149.74" width="3.20" height="3.20" fill="#e8873a" />
<rect x="510.60" y="146.79" width="3.20" height="3.20" fill="#e8873a" />
<rect x="512.40" y="143.77" width="3.20" height="3.20" fill="#e8873a" />
<rect x="514.20" y="140.75" width="3.20" height="3.20" fill="#e8873a" />
<rect x="516.00" y="137.60" width="3.20" height="3.20" fill="#e8873a" />
<rect x="517.80" y="134.00" width="3.20" height="3.20" fill="#e8873a" />
<rect x="519.60" y="130.40" width="3.20" height="3.20" fill="#e8873a" />
<rect x="521.40" y="125.15" width="3.20" height="3.20" fill="#e8873a" />
<rect x="523.20" y="119.42" width="3.20" height="3.20" fill="#e8873a" />
<rect x="525.00" y="113.52" width="3.20" height="3.20" fill="#e8873a" />
<rect x="526.80" y="107.28" width="3.20" height="3.20" fill="#e8873a" />
<rect x="528.60" y="101.05" width="3.20" height="3.20" fill="#e8873a" />
<rect x="530.40" y="95.41" width="3.20" height="3.20" fill="#e8873a" />
<rect x="532.20" y="89.80" width="3.20" height="3.20" fill="#e8873a" />
<rect x="534.00" y="83.40" width="3.20" height="3.20" fill="#e8873a" />
<rect x="535.80" y="80.13" width="3.20" height="3.20" fill="#e8873a" />
<rect x="537.60" y="76.85" width="3.20" height="3.20" fill="#e8873a" />
<rect x="539.40" y="73.40" width="3.20" height="3.20" fill="#e8873a" />
<rect x="541.20" y="69.86" width="3.20" height="3.20" fill="#e8873a" />
<rect x="543.00" y="66.82" width="3.20" height="3.20" fill="#e8873a" />
<rect x="544.80" y="63.40" width="3.20" height="3.20" fill="#e8873a" />
<rect x="546.60" y="60.12" width="3.20" height="3.20" fill="#e8873a" />
<rect x="548.40" y="57.98" width="3.20" height="3.20" fill="#e8873a" />
<rect x="550.20" y="55.83" width="3.20" height="3.20" fill="#e8873a" />
<rect x="552.00" y="54.15" width="3.20" height="3.20" fill="#e8873a" />
<rect x="553.80" y="53.39" width="3.20" height="3.20" fill="#e8873a" />
<rect x="555.60" y="52.64" width="3.20" height="3.20" fill="#e8873a" />
<rect x="557.40" y="51.88" width="3.20" height="3.20" fill="#e8873a" />
<rect x="559.20" y="52.49" width="3.20" height="3.20" fill="#e8873a" />
<rect x="561.00" y="53.28" width="3.20" height="3.20" fill="#e8873a" />
<rect x="562.80" y="54.06" width="3.20" height="3.20" fill="#e8873a" />
<rect x="564.60" y="54.78" width="3.20" height="3.20" fill="#e8873a" />
<path d="M483.40,160.99 L485.45,164.68 L481.35,164.68 Z" fill="#66ecb2"/>
<path d="M485.20,160.74 L487.25,164.43 L483.15,164.43 Z" fill="#66ecb2"/>
<path d="M487.00,160.50 L489.05,164.19 L484.95,164.19 Z" fill="#66ecb2"/>
<path d="M488.80,160.25 L490.85,163.94 L486.75,163.94 Z" fill="#66ecb2"/>
<path d="M490.60,159.93 L492.65,163.62 L488.55,163.62 Z" fill="#66ecb2"/>
<path d="M492.40,159.46 L494.45,163.15 L490.35,163.15 Z" fill="#66ecb2"/>
<path d="M494.20,158.99 L496.25,162.68 L492.15,162.68 Z" fill="#66ecb2"/>
<path d="M496.00,158.52 L498.05,162.21 L493.95,162.21 Z" fill="#66ecb2"/>
<path d="M497.80,158.05 L499.85,161.74 L495.75,161.74 Z" fill="#66ecb2"/>
<path d="M499.60,157.19 L501.65,160.88 L497.55,160.88 Z" fill="#66ecb2"/>
<path d="M501.40,155.85 L503.45,159.54 L499.35,159.54 Z" fill="#66ecb2"/>
<path d="M503.20,154.52 L505.25,158.21 L501.15,158.21 Z" fill="#66ecb2"/>
<path d="M505.00,153.18 L507.05,156.87 L502.95,156.87 Z" fill="#66ecb2"/>
<path d="M506.80,150.63 L508.85,154.32 L504.75,154.32 Z" fill="#66ecb2"/>
<path d="M508.60,147.10 L510.65,150.79 L506.55,150.79 Z" fill="#66ecb2"/>
<path d="M510.40,143.57 L512.45,147.26 L508.35,147.26 Z" fill="#66ecb2"/>
<path d="M512.20,139.26 L514.25,142.95 L510.15,142.95 Z" fill="#66ecb2"/>
<path d="M514.00,134.78 L516.05,138.47 L511.95,138.47 Z" fill="#66ecb2"/>
<path d="M515.80,130.70 L517.85,134.39 L513.75,134.39 Z" fill="#66ecb2"/>
<path d="M517.60,126.81 L519.65,130.50 L515.55,130.50 Z" fill="#66ecb2"/>
<path d="M519.40,122.23 L521.45,125.92 L517.35,125.92 Z" fill="#66ecb2"/>
<path d="M521.20,115.24 L523.25,118.93 L519.15,118.93 Z" fill="#66ecb2"/>
<path d="M523.00,108.25 L525.05,111.94 L520.95,111.94 Z" fill="#66ecb2"/>
<path d="M524.80,99.59 L526.85,103.28 L522.75,103.28 Z" fill="#66ecb2"/>
<path d="M526.60,90.59 L528.65,94.28 L524.55,94.28 Z" fill="#66ecb2"/>
<path d="M528.40,79.27 L530.45,82.96 L526.35,82.96 Z" fill="#66ecb2"/>
<path d="M530.20,70.30 L532.25,73.99 L528.15,73.99 Z" fill="#66ecb2"/>
<path d="M532.00,65.46 L534.05,69.15 L529.95,69.15 Z" fill="#66ecb2"/>
<path d="M533.80,61.20 L535.85,64.89 L531.75,64.89 Z" fill="#66ecb2"/>
<path d="M535.60,56.97 L537.65,60.66 L533.55,60.66 Z" fill="#66ecb2"/>
<path d="M537.40,52.69 L539.45,56.38 L535.35,56.38 Z" fill="#66ecb2"/>
<path d="M539.20,47.29 L541.25,50.98 L537.15,50.98 Z" fill="#66ecb2"/>
<path d="M541.00,41.93 L543.05,45.62 L538.95,45.62 Z" fill="#66ecb2"/>
<path d="M542.80,36.94 L544.85,40.63 L540.75,40.63 Z" fill="#66ecb2"/>
<path d="M544.60,32.29 L546.65,35.98 L542.55,35.98 Z" fill="#66ecb2"/>
<path d="M546.40,29.34 L548.45,33.03 L544.35,33.03 Z" fill="#66ecb2"/>
<path d="M548.20,26.38 L550.25,30.07 L546.15,30.07 Z" fill="#66ecb2"/>
<path d="M550.00,23.83 L552.05,27.52 L547.95,27.52 Z" fill="#66ecb2"/>
<path d="M551.80,22.70 L553.85,26.39 L549.75,26.39 Z" fill="#66ecb2"/>
<path d="M553.60,21.57 L555.65,25.26 L551.55,25.26 Z" fill="#66ecb2"/>
<path d="M555.40,20.44 L557.45,24.13 L553.35,24.13 Z" fill="#66ecb2"/>
<path d="M557.20,19.99 L559.25,23.68 L555.15,23.68 Z" fill="#66ecb2"/>
<path d="M559.00,20.89 L561.05,24.58 L556.95,24.58 Z" fill="#66ecb2"/>
<path d="M560.80,21.79 L562.85,25.48 L558.75,25.48 Z" fill="#66ecb2"/>
<path d="M562.60,22.69 L564.65,26.38 L560.55,26.38 Z" fill="#66ecb2"/>
<path d="M564.40,23.89 L566.45,27.58 L562.35,27.58 Z" fill="#66ecb2"/>
<line x1="507.60" y1="156.60" x2="500.50" y2="136.50" stroke="#70e090" stroke-width="0.9" />
<path d="M498.8,133.6 L502.6,137.0 L499.0,138.3 Z" stroke="none" stroke-width="1" fill="#70e090" />
<text x="484.80" y="130.30" font-size="7.6" text-anchor="start" font-weight="bold" fill="#111" font-family='"Liberation Sans", sans-serif' >-0.40 V</text>
<rect x="483.40" y="9.20" width="83.90" height="157.10" fill="none" stroke="#111" stroke-width="1.0"/>
<text x="487.40" y="21.30" font-size="8.1" text-anchor="start" font-weight="bold" fill="#111" font-family='"Liberation Sans", sans-serif' >Bi</text>
<path d="M492.70,27.92 L494.90,31.88 L490.50,31.88 Z" fill="#66ecb2"/>
<rect x="490.95" y="38.55" width="3.50" height="3.50" fill="#e8873a" />
<circle cx="492.70" cy="50.50" r="2.0" fill="#9088d4"/>
<text x="530.00" y="33.00" font-size="8.1" text-anchor="end" font-weight="bold" fill="#111" font-family='"Liberation Sans", sans-serif' >500 Hz</text>
<text x="530.00" y="43.10" font-size="8.1" text-anchor="end" font-weight="bold" fill="#111" font-family='"Liberation Sans", sans-serif' >1000 Hz</text>
<text x="530.00" y="53.20" font-size="8.1" text-anchor="end" font-weight="bold" fill="#111" font-family='"Liberation Sans", sans-serif' >1500 Hz</text>
<line x1="483.40" y1="166.30" x2="483.40" y2="168.70" stroke="#111" stroke-width="0.9" />
<line x1="493.86" y1="166.30" x2="493.86" y2="167.70" stroke="#111" stroke-width="0.8" />
<text x="483.40" y="176.20" font-size="6.8" text-anchor="middle" font-weight="bold" fill="#111" font-family='"Liberation Sans", sans-serif' >-1.0</text>
<line x1="504.33" y1="166.30" x2="504.33" y2="168.70" stroke="#111" stroke-width="0.9" />
<line x1="514.79" y1="166.30" x2="514.79" y2="167.70" stroke="#111" stroke-width="0.8" />
<text x="504.33" y="176.20" font-size="6.8" text-anchor="middle" font-weight="bold" fill="#111" font-family='"Liberation Sans", sans-serif' >-0.5</text>
<line x1="525.26" y1="166.30" x2="525.26" y2="168.70" stroke="#111" stroke-width="0.9" />
<line x1="535.72" y1="166.30" x2="535.72" y2="167.70" stroke="#111" stroke-width="0.8" />
<text x="525.26" y="176.20" font-size="6.8" text-anchor="middle" font-weight="bold" fill="#111" font-family='"Liberation Sans", sans-serif' >0.0</text>
<line x1="546.19" y1="166.30" x2="546.19" y2="168.70" stroke="#111" stroke-width="0.9" />
<line x1="556.65" y1="166.30" x2="556.65" y2="167.70" stroke="#111" stroke-width="0.8" />
<text x="546.19" y="176.20" font-size="6.8" text-anchor="middle" font-weight="bold" fill="#111" font-family='"Liberation Sans", sans-serif' >0.5</text>
<line x1="567.12" y1="166.30" x2="567.12" y2="168.70" stroke="#111" stroke-width="0.9" />
<text x="567.12" y="176.20" font-size="6.8" text-anchor="middle" font-weight="bold" fill="#111" font-family='"Liberation Sans", sans-serif' >1.0</text>
<text x="0.00" y="0.00" font-size="7.9" text-anchor="middle" font-weight="bold" fill="#111" font-family='"Liberation Sans", sans-serif' transform="translate(480.0,89.8) rotate(-90)">1/C<tspan font-size="5" dy="-3">2</tspan><tspan dy="3"> (F</tspan><tspan font-size="5" dy="-3">-2</tspan><tspan dy="3">)</tspan></text>
<text x="522.60" y="184.90" font-size="8.5" text-anchor="middle" font-weight="bold" fill="#111" font-family='"Liberation Sans", sans-serif' textLength="89.5" lengthAdjust="spacingAndGlyphs">Potential (V) vs. Ag/AgCl</text>
<line x1="602.70" y1="165.00" x2="623.00" y2="91.00" stroke="#555" stroke-width="0.5" stroke-dasharray="1,1"/>
<line x1="602.70" y1="165.00" x2="626.00" y2="103.00" stroke="#555" stroke-width="0.5" stroke-dasharray="1,1"/>
<line x1="602.70" y1="165.00" x2="619.00" y2="128.00" stroke="#555" stroke-width="0.5" stroke-dasharray="1,1"/>
<circle cx="618.40" cy="133.00" r="1.9" fill="#6a60c0"/>
<circle cx="620.20" cy="127.70" r="1.9" fill="#6a60c0"/>
<circle cx="622.00" cy="122.98" r="1.9" fill="#6a60c0"/>
<circle cx="623.80" cy="120.78" r="1.9" fill="#6a60c0"/>
<circle cx="625.60" cy="118.21" r="1.9" fill="#6a60c0"/>
<circle cx="627.40" cy="115.35" r="1.9" fill="#6a60c0"/>
<circle cx="629.20" cy="112.39" r="1.9" fill="#6a60c0"/>
<circle cx="631.00" cy="108.72" r="1.9" fill="#6a60c0"/>
<circle cx="632.80" cy="106.14" r="1.9" fill="#6a60c0"/>
<circle cx="634.60" cy="104.09" r="1.9" fill="#6a60c0"/>
<circle cx="636.40" cy="102.27" r="1.9" fill="#6a60c0"/>
<circle cx="638.20" cy="101.22" r="1.9" fill="#6a60c0"/>
<circle cx="640.00" cy="100.17" r="1.9" fill="#6a60c0"/>
<circle cx="641.80" cy="99.88" r="1.9" fill="#6a60c0"/>
<circle cx="643.60" cy="99.73" r="1.9" fill="#6a60c0"/>
<circle cx="645.40" cy="99.58" r="1.9" fill="#6a60c0"/>
<circle cx="647.20" cy="99.43" r="1.9" fill="#6a60c0"/>
<circle cx="649.00" cy="99.28" r="1.9" fill="#6a60c0"/>
<circle cx="650.80" cy="99.22" r="1.9" fill="#6a60c0"/>
<circle cx="652.60" cy="99.28" r="1.9" fill="#6a60c0"/>
<circle cx="654.40" cy="99.34" r="1.9" fill="#6a60c0"/>
<circle cx="656.20" cy="99.39" r="1.9" fill="#6a60c0"/>
<circle cx="658.00" cy="99.45" r="1.9" fill="#6a60c0"/>
<circle cx="659.80" cy="99.50" r="1.9" fill="#6a60c0"/>
<circle cx="661.60" cy="99.56" r="1.9" fill="#6a60c0"/>
<circle cx="663.40" cy="99.82" r="1.9" fill="#6a60c0"/>
<circle cx="665.20" cy="100.81" r="1.9" fill="#6a60c0"/>
<circle cx="667.00" cy="101.80" r="1.9" fill="#6a60c0"/>
<circle cx="668.80" cy="103.08" r="1.9" fill="#6a60c0"/>
<circle cx="670.60" cy="104.49" r="1.9" fill="#6a60c0"/>
<circle cx="672.40" cy="106.26" r="1.9" fill="#6a60c0"/>
<circle cx="674.20" cy="108.03" r="1.9" fill="#6a60c0"/>
<circle cx="676.00" cy="109.80" r="1.9" fill="#6a60c0"/>
<rect x="615.95" y="120.75" width="3.30" height="3.30" fill="#e8873a" />
<rect x="617.75" y="114.40" width="3.30" height="3.30" fill="#e8873a" />
<rect x="619.55" y="110.10" width="3.30" height="3.30" fill="#e8873a" />
<rect x="621.35" y="107.85" width="3.30" height="3.30" fill="#e8873a" />
<rect x="623.15" y="105.32" width="3.30" height="3.30" fill="#e8873a" />
<rect x="624.95" y="100.86" width="3.30" height="3.30" fill="#e8873a" />
<rect x="626.75" y="97.94" width="3.30" height="3.30" fill="#e8873a" />
<rect x="628.55" y="95.11" width="3.30" height="3.30" fill="#e8873a" />
<rect x="630.35" y="92.91" width="3.30" height="3.30" fill="#e8873a" />
<rect x="632.15" y="90.71" width="3.30" height="3.30" fill="#e8873a" />
<rect x="633.95" y="88.87" width="3.30" height="3.30" fill="#e8873a" />
<rect x="635.75" y="87.74" width="3.30" height="3.30" fill="#e8873a" />
<rect x="637.55" y="86.61" width="3.30" height="3.30" fill="#e8873a" />
<rect x="639.35" y="85.48" width="3.30" height="3.30" fill="#e8873a" />
<rect x="641.15" y="84.68" width="3.30" height="3.30" fill="#e8873a" />
<rect x="642.95" y="84.29" width="3.30" height="3.30" fill="#e8873a" />
<rect x="644.75" y="83.91" width="3.30" height="3.30" fill="#e8873a" />
<rect x="646.55" y="83.52" width="3.30" height="3.30" fill="#e8873a" />
<rect x="648.35" y="83.49" width="3.30" height="3.30" fill="#e8873a" />
<rect x="650.15" y="83.75" width="3.30" height="3.30" fill="#e8873a" />
<rect x="651.95" y="84.01" width="3.30" height="3.30" fill="#e8873a" />
<rect x="653.75" y="84.26" width="3.30" height="3.30" fill="#e8873a" />
<rect x="655.55" y="84.89" width="3.30" height="3.30" fill="#e8873a" />
<rect x="657.35" y="85.70" width="3.30" height="3.30" fill="#e8873a" />
<rect x="659.15" y="86.51" width="3.30" height="3.30" fill="#e8873a" />
<rect x="660.95" y="87.32" width="3.30" height="3.30" fill="#e8873a" />
<rect x="662.75" y="88.13" width="3.30" height="3.30" fill="#e8873a" />
<rect x="664.55" y="89.84" width="3.30" height="3.30" fill="#e8873a" />
<rect x="666.35" y="91.91" width="3.30" height="3.30" fill="#e8873a" />
<rect x="668.15" y="93.97" width="3.30" height="3.30" fill="#e8873a" />
<rect x="669.95" y="96.13" width="3.30" height="3.30" fill="#e8873a" />
<rect x="671.75" y="98.47" width="3.30" height="3.30" fill="#e8873a" />
<rect x="673.55" y="100.81" width="3.30" height="3.30" fill="#e8873a" />
<path d="M618.40,104.79 L620.45,108.48 L616.35,108.48 Z" fill="#66ecb2"/>
<path d="M620.20,100.01 L622.25,103.70 L618.15,103.70 Z" fill="#66ecb2"/>
<path d="M622.00,92.69 L624.05,96.38 L619.95,96.38 Z" fill="#66ecb2"/>
<path d="M623.80,84.88 L625.85,88.57 L621.75,88.57 Z" fill="#66ecb2"/>
<path d="M625.60,77.60 L627.65,81.29 L623.55,81.29 Z" fill="#66ecb2"/>
<path d="M627.40,71.01 L629.45,74.70 L625.35,74.70 Z" fill="#66ecb2"/>
<path d="M629.20,65.16 L631.25,68.85 L627.15,68.85 Z" fill="#66ecb2"/>
<path d="M631.00,59.94 L633.05,63.63 L628.95,63.63 Z" fill="#66ecb2"/>
<path d="M632.80,54.89 L634.85,58.58 L630.75,58.58 Z" fill="#66ecb2"/>
<path d="M634.60,49.13 L636.65,52.82 L632.55,52.82 Z" fill="#66ecb2"/>
<path d="M636.40,45.45 L638.45,49.14 L634.35,49.14 Z" fill="#66ecb2"/>
<path d="M638.20,42.45 L640.25,46.14 L636.15,46.14 Z" fill="#66ecb2"/>
<path d="M640.00,39.45 L642.05,43.14 L637.95,43.14 Z" fill="#66ecb2"/>
<path d="M641.80,37.12 L643.85,40.81 L639.75,40.81 Z" fill="#66ecb2"/>
<path d="M643.60,35.61 L645.65,39.30 L641.55,39.30 Z" fill="#66ecb2"/>
<path d="M645.40,34.10 L647.45,37.79 L643.35,37.79 Z" fill="#66ecb2"/>
<path d="M647.20,32.59 L649.25,36.28 L645.15,36.28 Z" fill="#66ecb2"/>
<path d="M649.00,31.09 L651.05,34.78 L646.95,34.78 Z" fill="#66ecb2"/>
<path d="M650.80,31.60 L652.85,35.29 L648.75,35.29 Z" fill="#66ecb2"/>
<path d="M652.60,32.11 L654.65,35.80 L650.55,35.80 Z" fill="#66ecb2"/>
<path d="M654.40,32.62 L656.45,36.31 L652.35,36.31 Z" fill="#66ecb2"/>
<path d="M656.20,33.61 L658.25,37.30 L654.15,37.30 Z" fill="#66ecb2"/>
<path d="M658.00,34.85 L660.05,38.54 L655.95,38.54 Z" fill="#66ecb2"/>
<path d="M659.80,36.09 L661.85,39.78 L657.75,39.78 Z" fill="#66ecb2"/>
<path d="M661.60,37.45 L663.65,41.14 L659.55,41.14 Z" fill="#66ecb2"/>
<path d="M663.40,39.84 L665.45,43.53 L661.35,43.53 Z" fill="#66ecb2"/>
<path d="M665.20,42.23 L667.25,45.92 L663.15,45.92 Z" fill="#66ecb2"/>
<path d="M667.00,45.38 L669.05,49.07 L664.95,49.07 Z" fill="#66ecb2"/>
<path d="M668.80,49.15 L670.85,52.84 L666.75,52.84 Z" fill="#66ecb2"/>
<path d="M670.60,55.74 L672.65,59.43 L668.55,59.43 Z" fill="#66ecb2"/>
<path d="M672.40,64.55 L674.45,68.24 L670.35,68.24 Z" fill="#66ecb2"/>
<path d="M674.20,70.13 L676.25,73.82 L672.15,73.82 Z" fill="#66ecb2"/>
<path d="M676.00,76.95 L678.05,80.64 L673.95,80.64 Z" fill="#66ecb2"/>
<line x1="603.50" y1="164.50" x2="624.00" y2="151.60" stroke="#70e090" stroke-width="0.9" />
<path d="M626.8,150.0 L622.0,150.2 L624.0,153.4 Z" stroke="none" stroke-width="1" fill="#70e090" />
<text x="623.80" y="147.80" font-size="7.6" text-anchor="start" font-weight="bold" fill="#111" font-family='"Liberation Sans", sans-serif' >-0.77 V</text>
<rect x="593.40" y="9.60" width="83.70" height="156.10" fill="none" stroke="#111" stroke-width="1.0"/>
<text x="595.70" y="19.80" font-size="7.6" text-anchor="start" font-weight="bold" fill="#111" font-family='"Liberation Sans", sans-serif' >Bi<tspan font-size="5.4" dy="1.8">2</tspan><tspan dy="-1.8">O</tspan><tspan font-size="5.4" dy="1.8">3</tspan></text>
<path d="M596.50,24.42 L598.70,28.38 L594.30,28.38 Z" fill="#66ecb2"/>
<rect x="594.75" y="35.95" width="3.50" height="3.50" fill="#e8873a" />
<circle cx="596.50" cy="49.60" r="2.0" fill="#6a60c0"/>
<text x="634.20" y="29.40" font-size="7.4" text-anchor="end" font-weight="bold" fill="#111" font-family='"Liberation Sans", sans-serif' >500 Hz</text>
<text x="634.20" y="40.50" font-size="7.4" text-anchor="end" font-weight="bold" fill="#111" font-family='"Liberation Sans", sans-serif' >1000 Hz</text>
<text x="634.20" y="52.30" font-size="7.4" text-anchor="end" font-weight="bold" fill="#111" font-family='"Liberation Sans", sans-serif' >1500 Hz</text>
<line x1="593.40" y1="165.70" x2="593.40" y2="168.10" stroke="#111" stroke-width="0.9" />
<line x1="603.86" y1="165.70" x2="603.86" y2="167.10" stroke="#111" stroke-width="0.8" />
<text x="593.40" y="176.20" font-size="6.8" text-anchor="middle" font-weight="bold" fill="#111" font-family='"Liberation Sans", sans-serif' >-1.0</text>
<line x1="614.33" y1="165.70" x2="614.33" y2="168.10" stroke="#111" stroke-width="0.9" />
<line x1="624.79" y1="165.70" x2="624.79" y2="167.10" stroke="#111" stroke-width="0.8" />
<text x="614.33" y="176.20" font-size="6.8" text-anchor="middle" font-weight="bold" fill="#111" font-family='"Liberation Sans", sans-serif' >-0.5</text>
<line x1="635.26" y1="165.70" x2="635.26" y2="168.10" stroke="#111" stroke-width="0.9" />
<line x1="645.72" y1="165.70" x2="645.72" y2="167.10" stroke="#111" stroke-width="0.8" />
<text x="635.26" y="176.20" font-size="6.8" text-anchor="middle" font-weight="bold" fill="#111" font-family='"Liberation Sans", sans-serif' >0.0</text>
<line x1="656.19" y1="165.70" x2="656.19" y2="168.10" stroke="#111" stroke-width="0.9" />
<line x1="666.65" y1="165.70" x2="666.65" y2="167.10" stroke="#111" stroke-width="0.8" />
<text x="656.19" y="176.20" font-size="6.8" text-anchor="middle" font-weight="bold" fill="#111" font-family='"Liberation Sans", sans-serif' >0.5</text>
<line x1="677.12" y1="165.70" x2="677.12" y2="168.10" stroke="#111" stroke-width="0.9" />
<text x="677.12" y="176.20" font-size="6.8" text-anchor="middle" font-weight="bold" fill="#111" font-family='"Liberation Sans", sans-serif' >1.0</text>
<text x="0.00" y="0.00" font-size="7.9" text-anchor="middle" font-weight="bold" fill="#111" font-family='"Liberation Sans", sans-serif' transform="translate(589.5,89.8) rotate(-90)">1/C<tspan font-size="5" dy="-3">2</tspan><tspan dy="3"> (F</tspan><tspan font-size="5" dy="-3">-2</tspan><tspan dy="3">)</tspan></text>
<text x="632.60" y="184.90" font-size="8.5" text-anchor="middle" font-weight="bold" fill="#111" font-family='"Liberation Sans", sans-serif' textLength="89.5" lengthAdjust="spacingAndGlyphs">Potential (V) vs. Ag/AgCl</text>
<text x="8.30" y="189.30" font-size="15.5" text-anchor="start" font-weight="bold" fill="#111" font-family='"Liberation Sans", sans-serif' >d</text>
<rect x="31.16" y="349.43" width="7.50" height="1.77" fill="#ec2f9b" />
<line x1="34.91" y1="348.98" x2="34.91" y2="349.87" stroke="#111" stroke-width="0.7" />
<line x1="33.31" y1="348.98" x2="36.51" y2="348.98" stroke="#111" stroke-width="0.7" />
<line x1="33.31" y1="349.87" x2="36.51" y2="349.87" stroke="#111" stroke-width="0.7" />
<rect x="38.66" y="350.53" width="7.50" height="0.67" fill="#f5413f" />
<line x1="42.41" y1="350.31" x2="42.41" y2="350.76" stroke="#111" stroke-width="0.7" />
<line x1="40.81" y1="350.31" x2="44.01" y2="350.31" stroke="#111" stroke-width="0.7" />
<line x1="40.81" y1="350.76" x2="44.01" y2="350.76" stroke="#111" stroke-width="0.7" />
<line x1="42.41" y1="351.20" x2="42.41" y2="353.60" stroke="#111" stroke-width="0.9" />
<text x="42.41" y="362.40" font-size="7.9" text-anchor="middle" font-weight="bold" fill="#111" font-family='"Liberation Sans", sans-serif' >Bi</text>
<rect x="58.57" y="349.87" width="7.50" height="1.33" fill="#ec2f9b" />
<line x1="62.32" y1="349.43" x2="62.32" y2="350.31" stroke="#111" stroke-width="0.7" />
<line x1="60.72" y1="349.43" x2="63.92" y2="349.43" stroke="#111" stroke-width="0.7" />
<line x1="60.72" y1="350.31" x2="63.92" y2="350.31" stroke="#111" stroke-width="0.7" />
<line x1="69.82" y1="351.20" x2="69.82" y2="353.60" stroke="#111" stroke-width="0.9" />
<line x1="56.11" y1="351.20" x2="56.11" y2="352.60" stroke="#111" stroke-width="0.8" />
<text x="69.82" y="362.40" font-size="7.9" text-anchor="middle" font-weight="bold" fill="#111" font-family='"Liberation Sans", sans-serif' >Bi<tspan font-size="5.53" dy="1.98">2</tspan><tspan dy="-1.98">O</tspan><tspan font-size="5.53" dy="1.98">3</tspan><tspan dy="-1.98"></tspan></text>
<rect x="85.99" y="350.31" width="7.50" height="0.89" fill="#ec2f9b" />
<line x1="89.74" y1="350.09" x2="89.74" y2="350.53" stroke="#111" stroke-width="0.7" />
<line x1="88.14" y1="350.09" x2="91.34" y2="350.09" stroke="#111" stroke-width="0.7" />
<line x1="88.14" y1="350.53" x2="91.34" y2="350.53" stroke="#111" stroke-width="0.7" />
<line x1="97.24" y1="351.20" x2="97.24" y2="353.60" stroke="#111" stroke-width="0.9" />
<line x1="83.53" y1="351.20" x2="83.53" y2="352.60" stroke="#111" stroke-width="0.8" />
<text x="97.24" y="362.40" font-size="7.9" text-anchor="middle" font-weight="bold" fill="#111" font-family='"Liberation Sans", sans-serif' >Bi<tspan font-size="5.53" dy="1.98">2</tspan><tspan dy="-1.98">S</tspan><tspan font-size="5.53" dy="1.98">3</tspan><tspan dy="-1.98"></tspan></text>
<rect x="113.40" y="346.77" width="7.50" height="4.43" fill="#ec2f9b" />
<line x1="117.15" y1="346.10" x2="117.15" y2="347.43" stroke="#111" stroke-width="0.7" />
<line x1="115.55" y1="346.10" x2="118.75" y2="346.10" stroke="#111" stroke-width="0.7" />
<line x1="115.55" y1="347.43" x2="118.75" y2="347.43" stroke="#111" stroke-width="0.7" />
<rect x="120.90" y="350.98" width="7.50" height="0.22" fill="#f5413f" />
<line x1="124.65" y1="350.76" x2="124.65" y2="351.20" stroke="#111" stroke-width="0.7" />
<line x1="123.05" y1="350.76" x2="126.25" y2="350.76" stroke="#111" stroke-width="0.7" />
<line x1="123.05" y1="351.20" x2="126.25" y2="351.20" stroke="#111" stroke-width="0.7" />
<rect x="128.40" y="346.10" width="7.50" height="5.10" fill="#e5832f" />
<line x1="132.15" y1="345.66" x2="132.15" y2="346.54" stroke="#111" stroke-width="0.7" />
<line x1="130.55" y1="345.66" x2="133.75" y2="345.66" stroke="#111" stroke-width="0.7" />
<line x1="130.55" y1="346.54" x2="133.75" y2="346.54" stroke="#111" stroke-width="0.7" />
<line x1="124.65" y1="351.20" x2="124.65" y2="353.60" stroke="#111" stroke-width="0.9" />
<line x1="110.94" y1="351.20" x2="110.94" y2="352.60" stroke="#111" stroke-width="0.8" />
<text x="124.65" y="362.40" font-size="7.9" text-anchor="middle" font-weight="bold" fill="#111" font-family='"Liberation Sans", sans-serif' >BBS</text>
<rect x="140.81" y="336.79" width="7.50" height="14.41" fill="#ec2f9b" />
<line x1="144.56" y1="335.02" x2="144.56" y2="338.56" stroke="#111" stroke-width="0.7" />
<line x1="142.96" y1="335.02" x2="146.16" y2="335.02" stroke="#111" stroke-width="0.7" />
<line x1="142.96" y1="338.56" x2="146.16" y2="338.56" stroke="#111" stroke-width="0.7" />
<rect x="148.31" y="348.32" width="7.50" height="2.88" fill="#f5413f" />
<line x1="152.06" y1="347.87" x2="152.06" y2="348.76" stroke="#111" stroke-width="0.7" />
<line x1="150.46" y1="347.87" x2="153.66" y2="347.87" stroke="#111" stroke-width="0.7" />
<line x1="150.46" y1="348.76" x2="153.66" y2="348.76" stroke="#111" stroke-width="0.7" />
<rect x="155.81" y="282.47" width="7.50" height="68.73" fill="#e5832f" />
<line x1="159.56" y1="276.49" x2="159.56" y2="288.46" stroke="#111" stroke-width="0.7" />
<line x1="157.96" y1="276.49" x2="161.16" y2="276.49" stroke="#111" stroke-width="0.7" />
<line x1="157.96" y1="288.46" x2="161.16" y2="288.46" stroke="#111" stroke-width="0.7" />
<line x1="152.06" y1="351.20" x2="152.06" y2="353.60" stroke="#111" stroke-width="0.9" />
<line x1="138.36" y1="351.20" x2="138.36" y2="352.60" stroke="#111" stroke-width="0.8" />
<text x="152.06" y="362.40" font-size="7.9" text-anchor="middle" font-weight="bold" fill="#111" font-family='"Liberation Sans", sans-serif' >BBO-2</text>
<rect x="168.23" y="324.60" width="7.50" height="26.60" fill="#ec2f9b" />
<line x1="171.98" y1="322.38" x2="171.98" y2="326.81" stroke="#111" stroke-width="0.7" />
<line x1="170.38" y1="322.38" x2="173.58" y2="322.38" stroke="#111" stroke-width="0.7" />
<line x1="170.38" y1="326.81" x2="173.58" y2="326.81" stroke="#111" stroke-width="0.7" />
<rect x="175.73" y="345.66" width="7.50" height="5.54" fill="#f5413f" />
<line x1="179.48" y1="344.99" x2="179.48" y2="346.32" stroke="#111" stroke-width="0.7" />
<line x1="177.88" y1="344.99" x2="181.08" y2="344.99" stroke="#111" stroke-width="0.7" />
<line x1="177.88" y1="346.32" x2="181.08" y2="346.32" stroke="#111" stroke-width="0.7" />
<rect x="183.23" y="215.96" width="7.50" height="135.24" fill="#e5832f" />
<line x1="186.98" y1="208.87" x2="186.98" y2="223.06" stroke="#111" stroke-width="0.7" />
<line x1="185.38" y1="208.87" x2="188.58" y2="208.87" stroke="#111" stroke-width="0.7" />
<line x1="185.38" y1="223.06" x2="188.58" y2="223.06" stroke="#111" stroke-width="0.7" />
<line x1="179.48" y1="351.20" x2="179.48" y2="353.60" stroke="#111" stroke-width="0.9" />
<line x1="165.77" y1="351.20" x2="165.77" y2="352.60" stroke="#111" stroke-width="0.8" />
<text x="179.48" y="362.40" font-size="7.9" text-anchor="middle" font-weight="bold" fill="#111" font-family='"Liberation Sans", sans-serif' >BBO-4</text>
<rect x="195.64" y="343.00" width="7.50" height="8.20" fill="#ec2f9b" />
<line x1="199.39" y1="342.11" x2="199.39" y2="343.88" stroke="#111" stroke-width="0.7" />
<line x1="197.79" y1="342.11" x2="200.99" y2="342.11" stroke="#111" stroke-width="0.7" />
<line x1="197.79" y1="343.88" x2="200.99" y2="343.88" stroke="#111" stroke-width="0.7" />
<rect x="203.14" y="349.65" width="7.50" height="1.55" fill="#f5413f" />
<line x1="206.89" y1="349.20" x2="206.89" y2="350.09" stroke="#111" stroke-width="0.7" />
<line x1="205.29" y1="349.20" x2="208.49" y2="349.20" stroke="#111" stroke-width="0.7" />
<line x1="205.29" y1="350.09" x2="208.49" y2="350.09" stroke="#111" stroke-width="0.7" />
<rect x="210.64" y="310.19" width="7.50" height="41.01" fill="#e5832f" />
<line x1="214.39" y1="306.19" x2="214.39" y2="314.18" stroke="#111" stroke-width="0.7" />
<line x1="212.79" y1="306.19" x2="215.99" y2="306.19" stroke="#111" stroke-width="0.7" />
<line x1="212.79" y1="314.18" x2="215.99" y2="314.18" stroke="#111" stroke-width="0.7" />
<line x1="206.89" y1="351.20" x2="206.89" y2="353.60" stroke="#111" stroke-width="0.9" />
<line x1="193.19" y1="351.20" x2="193.19" y2="352.60" stroke="#111" stroke-width="0.8" />
<text x="206.89" y="362.40" font-size="7.9" text-anchor="middle" font-weight="bold" fill="#111" font-family='"Liberation Sans", sans-serif' >BBO-6</text>
<rect x="28.70" y="195.80" width="191.90" height="155.40" fill="none" stroke="#111" stroke-width="1.1"/>
<line x1="26.10" y1="351.20" x2="28.70" y2="351.20" stroke="#111" stroke-width="1" />
<text x="23.20" y="353.50" font-size="6.4" text-anchor="end" font-weight="bold" fill="#111" font-family='"Liberation Sans", sans-serif' >0</text>
<line x1="27.20" y1="340.12" x2="28.70" y2="340.12" stroke="#111" stroke-width="0.8" />
<line x1="26.10" y1="329.03" x2="28.70" y2="329.03" stroke="#111" stroke-width="1" />
<text x="23.20" y="331.33" font-size="6.4" text-anchor="end" font-weight="bold" fill="#111" font-family='"Liberation Sans", sans-serif' >100</text>
<line x1="27.20" y1="317.94" x2="28.70" y2="317.94" stroke="#111" stroke-width="0.8" />
<line x1="26.10" y1="306.86" x2="28.70" y2="306.86" stroke="#111" stroke-width="1" />
<text x="23.20" y="309.16" font-size="6.4" text-anchor="end" font-weight="bold" fill="#111" font-family='"Liberation Sans", sans-serif' >200</text>
<line x1="27.20" y1="295.78" x2="28.70" y2="295.78" stroke="#111" stroke-width="0.8" />
<line x1="26.10" y1="284.69" x2="28.70" y2="284.69" stroke="#111" stroke-width="1" />
<text x="23.20" y="286.99" font-size="6.4" text-anchor="end" font-weight="bold" fill="#111" font-family='"Liberation Sans", sans-serif' >300</text>
<line x1="27.20" y1="273.61" x2="28.70" y2="273.61" stroke="#111" stroke-width="0.8" />
<line x1="26.10" y1="262.52" x2="28.70" y2="262.52" stroke="#111" stroke-width="1" />
<text x="23.20" y="264.82" font-size="6.4" text-anchor="end" font-weight="bold" fill="#111" font-family='"Liberation Sans", sans-serif' >400</text>
<line x1="27.20" y1="251.43" x2="28.70" y2="251.43" stroke="#111" stroke-width="0.8" />
<line x1="26.10" y1="240.35" x2="28.70" y2="240.35" stroke="#111" stroke-width="1" />
<text x="23.20" y="242.65" font-size="6.4" text-anchor="end" font-weight="bold" fill="#111" font-family='"Liberation Sans", sans-serif' >500</text>
<line x1="27.20" y1="229.26" x2="28.70" y2="229.26" stroke="#111" stroke-width="0.8" />
<line x1="26.10" y1="218.18" x2="28.70" y2="218.18" stroke="#111" stroke-width="1" />
<text x="23.20" y="220.48" font-size="6.4" text-anchor="end" font-weight="bold" fill="#111" font-family='"Liberation Sans", sans-serif' >600</text>
<line x1="27.20" y1="207.09" x2="28.70" y2="207.09" stroke="#111" stroke-width="0.8" />
<line x1="26.10" y1="196.01" x2="28.70" y2="196.01" stroke="#111" stroke-width="1" />
<text x="23.20" y="198.31" font-size="6.4" text-anchor="end" font-weight="bold" fill="#111" font-family='"Liberation Sans", sans-serif' >700</text>
<rect x="33.00" y="198.50" width="16.20" height="8.20" fill="#ec2f9b" />
<text x="51.60" y="205.30" font-size="7.8" text-anchor="start" font-weight="bold" fill="#111" font-family='"Liberation Sans", sans-serif' >CO</text>
<rect x="33.00" y="209.00" width="16.20" height="7.80" fill="#f5413f" />
<text x="51.60" y="215.70" font-size="7.8" text-anchor="start" font-weight="bold" fill="#111" font-family='"Liberation Sans", sans-serif' >CH<tspan font-size="5.46" dy="1.95">4</tspan><tspan dy="-1.95"></tspan></text>
<rect x="33.00" y="221.10" width="16.20" height="7.70" fill="#e5832f" />
<text x="51.60" y="227.90" font-size="7.8" text-anchor="start" font-weight="bold" fill="#111" font-family='"Liberation Sans", sans-serif' >CH<tspan font-size="5.46" dy="1.95">3</tspan><tspan dy="-1.95">OH</tspan></text>
<text x="0.00" y="0.00" font-size="8.8" text-anchor="middle" font-weight="bold" fill="#111" font-family='"Liberation Sans", sans-serif' transform="translate(9.4,271.3) rotate(-90)">Product yield (μmol g<tspan font-size="5.4" dy="-3">-1</tspan><tspan dy="3">)</tspan></text>
<text x="237.50" y="189.60" font-size="15.5" text-anchor="start" font-weight="bold" fill="#111" font-family='"Liberation Sans", sans-serif' >e</text>
<rect x="262.80" y="324.98" width="12.80" height="26.42" fill="#ec2f9b" />
<line x1="269.20" y1="322.54" x2="269.20" y2="327.42" stroke="#111" stroke-width="0.7" />
<line x1="267.40" y1="322.54" x2="271.00" y2="322.54" stroke="#111" stroke-width="0.7" />
<line x1="267.40" y1="327.42" x2="271.00" y2="327.42" stroke="#111" stroke-width="0.7" />
<rect x="275.60" y="345.63" width="12.80" height="5.77" fill="#f5413f" />
<line x1="282.00" y1="345.18" x2="282.00" y2="346.07" stroke="#111" stroke-width="0.7" />
<line x1="280.20" y1="345.18" x2="283.80" y2="345.18" stroke="#111" stroke-width="0.7" />
<line x1="280.20" y1="346.07" x2="283.80" y2="346.07" stroke="#111" stroke-width="0.7" />
<rect x="288.40" y="215.54" width="12.80" height="135.86" fill="#e5832f" />
<line x1="294.80" y1="208.21" x2="294.80" y2="222.86" stroke="#111" stroke-width="0.7" />
<line x1="293.00" y1="208.21" x2="296.60" y2="208.21" stroke="#111" stroke-width="0.7" />
<line x1="293.00" y1="222.86" x2="296.60" y2="222.86" stroke="#111" stroke-width="0.7" />
<line x1="282.00" y1="351.40" x2="282.00" y2="353.80" stroke="#111" stroke-width="0.9" />
<text x="282.00" y="362.80" font-size="7.6" text-anchor="middle" font-weight="bold" fill="#111" font-family='"Liberation Sans", sans-serif' >1</text>
<line x1="330.40" y1="351.40" x2="330.40" y2="353.80" stroke="#111" stroke-width="0.9" />
<line x1="306.20" y1="351.40" x2="306.20" y2="352.80" stroke="#111" stroke-width="0.8" />
<text x="330.40" y="362.80" font-size="7.6" text-anchor="middle" font-weight="bold" fill="#111" font-family='"Liberation Sans", sans-serif' >2</text>
<text x="330.40" y="349.20" font-size="7.8" text-anchor="middle" font-weight="bold" fill="#111" font-family='"Liberation Sans", sans-serif' >n.d.</text>
<line x1="378.80" y1="351.40" x2="378.80" y2="353.80" stroke="#111" stroke-width="0.9" />
<line x1="354.60" y1="351.40" x2="354.60" y2="352.80" stroke="#111" stroke-width="0.8" />
<text x="378.80" y="362.80" font-size="7.6" text-anchor="middle" font-weight="bold" fill="#111" font-family='"Liberation Sans", sans-serif' >3</text>
<text x="378.80" y="349.20" font-size="7.8" text-anchor="middle" font-weight="bold" fill="#111" font-family='"Liberation Sans", sans-serif' >n.d.</text>
<line x1="427.20" y1="351.40" x2="427.20" y2="353.80" stroke="#111" stroke-width="0.9" />
<line x1="403.00" y1="351.40" x2="403.00" y2="352.80" stroke="#111" stroke-width="0.8" />
<text x="427.20" y="362.80" font-size="7.6" text-anchor="middle" font-weight="bold" fill="#111" font-family='"Liberation Sans", sans-serif' >4</text>
<text x="427.20" y="349.20" font-size="7.8" text-anchor="middle" font-weight="bold" fill="#111" font-family='"Liberation Sans", sans-serif' >n.d.</text>
<rect x="257.80" y="196.20" width="193.60" height="155.20" fill="none" stroke="#111" stroke-width="1.1"/>
<line x1="255.20" y1="351.40" x2="257.80" y2="351.40" stroke="#111" stroke-width="1" />
<text x="252.50" y="353.70" font-size="6.5" text-anchor="end" font-weight="bold" fill="#111" font-family='"Liberation Sans", sans-serif' >0</text>
<line x1="256.30" y1="340.30" x2="257.80" y2="340.30" stroke="#111" stroke-width="0.8" />
<line x1="255.20" y1="329.20" x2="257.80" y2="329.20" stroke="#111" stroke-width="1" />
<text x="252.50" y="331.50" font-size="6.5" text-anchor="end" font-weight="bold" fill="#111" font-family='"Liberation Sans", sans-serif' >100</text>
<line x1="256.30" y1="318.10" x2="257.80" y2="318.10" stroke="#111" stroke-width="0.8" />
<line x1="255.20" y1="307.00" x2="257.80" y2="307.00" stroke="#111" stroke-width="1" />
<text x="252.50" y="309.30" font-size="6.5" text-anchor="end" font-weight="bold" fill="#111" font-family='"Liberation Sans", sans-serif' >200</text>
<line x1="256.30" y1="295.90" x2="257.80" y2="295.90" stroke="#111" stroke-width="0.8" />
<line x1="255.20" y1="284.80" x2="257.80" y2="284.80" stroke="#111" stroke-width="1" />
<text x="252.50" y="287.10" font-size="6.5" text-anchor="end" font-weight="bold" fill="#111" font-family='"Liberation Sans", sans-serif' >300</text>
<line x1="256.30" y1="273.70" x2="257.80" y2="273.70" stroke="#111" stroke-width="0.8" />
<line x1="255.20" y1="262.60" x2="257.80" y2="262.60" stroke="#111" stroke-width="1" />
<text x="252.50" y="264.90" font-size="6.5" text-anchor="end" font-weight="bold" fill="#111" font-family='"Liberation Sans", sans-serif' >400</text>
<line x1="256.30" y1="251.50" x2="257.80" y2="251.50" stroke="#111" stroke-width="0.8" />
<line x1="255.20" y1="240.40" x2="257.80" y2="240.40" stroke="#111" stroke-width="1" />
<text x="252.50" y="242.70" font-size="6.5" text-anchor="end" font-weight="bold" fill="#111" font-family='"Liberation Sans", sans-serif' >500</text>
<line x1="256.30" y1="229.30" x2="257.80" y2="229.30" stroke="#111" stroke-width="0.8" />
<line x1="255.20" y1="218.20" x2="257.80" y2="218.20" stroke="#111" stroke-width="1" />
<text x="252.50" y="220.50" font-size="6.5" text-anchor="end" font-weight="bold" fill="#111" font-family='"Liberation Sans", sans-serif' >600</text>
<line x1="256.30" y1="207.10" x2="257.80" y2="207.10" stroke="#111" stroke-width="0.8" />
<line x1="255.20" y1="196.00" x2="257.80" y2="196.00" stroke="#111" stroke-width="1" />
<text x="252.50" y="198.30" font-size="6.5" text-anchor="end" font-weight="bold" fill="#111" font-family='"Liberation Sans", sans-serif' >700</text>
<rect x="399.30" y="199.10" width="16.50" height="7.80" fill="#ec2f9b" />
<text x="417.50" y="205.80" font-size="7.8" text-anchor="start" font-weight="bold" fill="#111" font-family='"Liberation Sans", sans-serif' >CO</text>
<rect x="399.30" y="209.90" width="16.50" height="7.40" fill="#f5413f" />
<text x="417.50" y="216.30" font-size="7.8" text-anchor="start" font-weight="bold" fill="#111" font-family='"Liberation Sans", sans-serif' >CH<tspan font-size="5.46" dy="1.95">4</tspan><tspan dy="-1.95"></tspan></text>
<rect x="399.30" y="221.30" width="16.50" height="8.20" fill="#e5832f" />
<text x="417.50" y="228.30" font-size="7.8" text-anchor="start" font-weight="bold" fill="#111" font-family='"Liberation Sans", sans-serif' >CH<tspan font-size="5.46" dy="1.95">3</tspan><tspan dy="-1.95">OH</tspan></text>
<text x="318.70" y="244.20" font-size="8.0" text-anchor="start" font-weight="bold" fill="#111" font-family='"Liberation Sans", sans-serif' >1. Normal reaction</text>
<text x="318.70" y="255.20" font-size="8.0" text-anchor="start" font-weight="bold" fill="#111" font-family='"Liberation Sans", sans-serif' >2. Using Ar to replace CO<tspan font-size="5.60" dy="2.00">2</tspan><tspan dy="-2.00"></tspan></text>
<text x="318.70" y="266.10" font-size="8.0" text-anchor="start" font-weight="bold" fill="#111" font-family='"Liberation Sans", sans-serif' >3. Without catalyst</text>
<text x="318.70" y="276.70" font-size="8.0" text-anchor="start" font-weight="bold" fill="#111" font-family='"Liberation Sans", sans-serif' >4. In dark</text>
<text x="0.00" y="0.00" font-size="8.8" text-anchor="middle" font-weight="bold" fill="#111" font-family='"Liberation Sans", sans-serif' transform="translate(239.6,271.3) rotate(-90)">Product yield (μmol g<tspan font-size="5.4" dy="-3">-1</tspan><tspan dy="3">)</tspan></text>
<text x="458.40" y="188.50" font-size="15.5" text-anchor="start" font-weight="bold" fill="#111" font-family='"Liberation Sans", sans-serif' >f</text>
<rect x="498.92" y="345.15" width="11.50" height="5.85" fill="#ec2f9b" />
<rect x="510.42" y="326.24" width="11.50" height="24.77" fill="#f5413f" />
<rect x="521.92" y="232.05" width="11.50" height="118.95" fill="#e5832f" />
<line x1="516.17" y1="351.00" x2="516.17" y2="353.40" stroke="#111" stroke-width="0.9" />
<text x="516.17" y="363.10" font-size="9" text-anchor="middle" font-weight="bold" fill="#111" font-family='"Liberation Sans", sans-serif' >1</text>
<text x="520.67" y="359.40" font-size="5.4" text-anchor="start" font-weight="bold" fill="#111" font-family='"Liberation Sans", sans-serif' >st</text>
<rect x="542.23" y="345.74" width="11.50" height="5.27" fill="#ec2f9b" />
<rect x="553.73" y="326.04" width="11.50" height="24.96" fill="#f5413f" />
<rect x="565.23" y="231.27" width="11.50" height="119.73" fill="#e5832f" />
<line x1="559.48" y1="351.00" x2="559.48" y2="353.40" stroke="#111" stroke-width="0.9" />
<text x="559.48" y="363.10" font-size="9" text-anchor="middle" font-weight="bold" fill="#111" font-family='"Liberation Sans", sans-serif' >2</text>
<text x="563.98" y="359.40" font-size="5.4" text-anchor="start" font-weight="bold" fill="#111" font-family='"Liberation Sans", sans-serif' >nd</text>
<rect x="585.52" y="346.12" width="11.50" height="4.88" fill="#ec2f9b" />
<rect x="597.02" y="327.60" width="11.50" height="23.40" fill="#f5413f" />
<rect x="608.52" y="233.02" width="11.50" height="117.98" fill="#e5832f" />
<line x1="602.77" y1="351.00" x2="602.77" y2="353.40" stroke="#111" stroke-width="0.9" />
<text x="602.77" y="363.10" font-size="9" text-anchor="middle" font-weight="bold" fill="#111" font-family='"Liberation Sans", sans-serif' >3</text>
<text x="607.27" y="359.40" font-size="5.4" text-anchor="start" font-weight="bold" fill="#111" font-family='"Liberation Sans", sans-serif' >rd</text>
<rect x="628.83" y="346.12" width="11.50" height="4.88" fill="#ec2f9b" />
<rect x="640.33" y="327.21" width="11.50" height="23.79" fill="#f5413f" />
<rect x="651.83" y="234.97" width="11.50" height="116.03" fill="#e5832f" />
<line x1="646.08" y1="351.00" x2="646.08" y2="353.40" stroke="#111" stroke-width="0.9" />
<text x="646.08" y="363.10" font-size="9" text-anchor="middle" font-weight="bold" fill="#111" font-family='"Liberation Sans", sans-serif' >4</text>
<text x="650.58" y="359.40" font-size="5.4" text-anchor="start" font-weight="bold" fill="#111" font-family='"Liberation Sans", sans-serif' >th</text>
<rect x="483.70" y="195.30" width="195.00" height="155.70" fill="none" stroke="#111" stroke-width="1.1"/>
<line x1="481.10" y1="351.00" x2="483.70" y2="351.00" stroke="#111" stroke-width="1" />
<text x="478.30" y="353.30" font-size="6.3" text-anchor="end" font-weight="bold" fill="#111" font-family='"Liberation Sans", sans-serif' >0</text>
<line x1="481.10" y1="331.50" x2="483.70" y2="331.50" stroke="#111" stroke-width="1" />
<text x="478.30" y="333.80" font-size="6.3" text-anchor="end" font-weight="bold" fill="#111" font-family='"Liberation Sans", sans-serif' >100</text>
<line x1="481.10" y1="312.00" x2="483.70" y2="312.00" stroke="#111" stroke-width="1" />
<text x="478.30" y="314.30" font-size="6.3" text-anchor="end" font-weight="bold" fill="#111" font-family='"Liberation Sans", sans-serif' >200</text>
<line x1="481.10" y1="292.50" x2="483.70" y2="292.50" stroke="#111" stroke-width="1" />
<text x="478.30" y="294.80" font-size="6.3" text-anchor="end" font-weight="bold" fill="#111" font-family='"Liberation Sans", sans-serif' >300</text>
<line x1="481.10" y1="273.00" x2="483.70" y2="273.00" stroke="#111" stroke-width="1" />
<text x="478.30" y="275.30" font-size="6.3" text-anchor="end" font-weight="bold" fill="#111" font-family='"Liberation Sans", sans-serif' >400</text>
<line x1="481.10" y1="253.50" x2="483.70" y2="253.50" stroke="#111" stroke-width="1" />
<text x="478.30" y="255.80" font-size="6.3" text-anchor="end" font-weight="bold" fill="#111" font-family='"Liberation Sans", sans-serif' >500</text>
<line x1="481.10" y1="234.00" x2="483.70" y2="234.00" stroke="#111" stroke-width="1" />
<text x="478.30" y="236.30" font-size="6.3" text-anchor="end" font-weight="bold" fill="#111" font-family='"Liberation Sans", sans-serif' >600</text>
<line x1="481.10" y1="214.50" x2="483.70" y2="214.50" stroke="#111" stroke-width="1" />
<text x="478.30" y="216.80" font-size="6.3" text-anchor="end" font-weight="bold" fill="#111" font-family='"Liberation Sans", sans-serif' >700</text>
<line x1="481.10" y1="195.00" x2="483.70" y2="195.00" stroke="#111" stroke-width="1" />
<text x="478.30" y="197.30" font-size="6.3" text-anchor="end" font-weight="bold" fill="#111" font-family='"Liberation Sans", sans-serif' >800</text>
<rect x="631.80" y="198.20" width="16.20" height="8.30" fill="#ec2f9b" />
<text x="649.90" y="205.20" font-size="7.5" text-anchor="start" font-weight="bold" fill="#111" font-family='"Liberation Serif", serif' >CH<tspan font-size="5.25" dy="1.88">4</tspan><tspan dy="-1.88"></tspan></text>
<rect x="631.80" y="209.20" width="16.20" height="7.80" fill="#f5413f" />
<text x="649.90" y="215.50" font-size="7.5" text-anchor="start" font-weight="bold" fill="#111" font-family='"Liberation Serif", serif' >CO</text>
<rect x="631.80" y="218.40" width="16.20" height="8.20" fill="#e5832f" />
<text x="649.90" y="225.00" font-size="7.5" text-anchor="start" font-weight="bold" fill="#111" font-family='"Liberation Serif", serif' >CH<tspan font-size="5.25" dy="1.88">3</tspan><tspan dy="-1.88">OH</tspan></text>
<text x="0.00" y="0.00" font-size="8.3" text-anchor="middle" font-weight="bold" fill="#111" font-family='"Liberation Sans", sans-serif' transform="translate(462.4,272.4) rotate(-90)">Product yield (μmol g<tspan font-size="5" dy="-3">-1</tspan><tspan dy="3">)</tspan></text>
<text x="10.80" y="377.50" font-size="15.5" text-anchor="start" font-weight="bold" fill="#111" font-family='"Liberation Sans", sans-serif' >g</text>
<rect x="51.26" y="505.80" width="2.60" height="19.60" fill="#ef8a38" />
<rect x="112.22" y="455.30" width="2.60" height="70.10" fill="#ef8a38" />
<rect x="132.54" y="487.00" width="2.60" height="38.40" fill="#ef8a38" />
<rect x="193.50" y="416.20" width="2.60" height="109.20" fill="#ef8a38" />
<rect x="192.20" y="446.60" width="5.20" height="2.80" fill="#fff" />
<rect x="27.20" y="371.50" width="193.50" height="153.90" fill="none" stroke="#111" stroke-width="1.1"/>
<rect x="24.20" y="446.70" width="6.00" height="3.20" fill="#fff" transform="rotate(-30 27.2 448.3)"/>
<line x1="24.00" y1="448.10" x2="30.40" y2="445.30" stroke="#111" stroke-width="0.8" />
<line x1="24.00" y1="450.90" x2="30.40" y2="448.10" stroke="#111" stroke-width="0.8" />
<line x1="27.20" y1="371.50" x2="27.20" y2="445.80" stroke="#111" stroke-width="1.1" />
<line x1="27.20" y1="450.80" x2="27.20" y2="525.40" stroke="#111" stroke-width="1.1" />
<rect x="217.70" y="447.00" width="6.00" height="3.20" fill="#fff" transform="rotate(-30 220.7 448.6)"/>
<line x1="217.50" y1="448.40" x2="223.90" y2="445.60" stroke="#111" stroke-width="0.8" />
<line x1="217.50" y1="451.20" x2="223.90" y2="448.40" stroke="#111" stroke-width="0.8" />
<line x1="220.70" y1="371.50" x2="220.70" y2="446.10" stroke="#111" stroke-width="1.1" />
<line x1="220.70" y1="451.10" x2="220.70" y2="525.40" stroke="#111" stroke-width="1.1" />
<line x1="42.40" y1="525.40" x2="42.40" y2="527.80" stroke="#111" stroke-width="0.9" />
<text x="42.40" y="535.40" font-size="6.4" text-anchor="middle" font-weight="bold" fill="#111" font-family='"Liberation Sans", sans-serif' >15</text>
<line x1="67.80" y1="525.40" x2="67.80" y2="527.80" stroke="#111" stroke-width="0.9" />
<text x="67.80" y="535.40" font-size="6.4" text-anchor="middle" font-weight="bold" fill="#111" font-family='"Liberation Sans", sans-serif' >20</text>
<line x1="93.20" y1="525.40" x2="93.20" y2="527.80" stroke="#111" stroke-width="0.9" />
<text x="93.20" y="535.40" font-size="6.4" text-anchor="middle" font-weight="bold" fill="#111" font-family='"Liberation Sans", sans-serif' >25</text>
<line x1="118.60" y1="525.40" x2="118.60" y2="527.80" stroke="#111" stroke-width="0.9" />
<text x="118.60" y="535.40" font-size="6.4" text-anchor="middle" font-weight="bold" fill="#111" font-family='"Liberation Sans", sans-serif' >30</text>
<line x1="144.00" y1="525.40" x2="144.00" y2="527.80" stroke="#111" stroke-width="0.9" />
<text x="144.00" y="535.40" font-size="6.4" text-anchor="middle" font-weight="bold" fill="#111" font-family='"Liberation Sans", sans-serif' >35</text>
<line x1="169.40" y1="525.40" x2="169.40" y2="527.80" stroke="#111" stroke-width="0.9" />
<text x="169.40" y="535.40" font-size="6.4" text-anchor="middle" font-weight="bold" fill="#111" font-family='"Liberation Sans", sans-serif' >40</text>
<line x1="194.80" y1="525.40" x2="194.80" y2="527.80" stroke="#111" stroke-width="0.9" />
<text x="194.80" y="535.40" font-size="6.4" text-anchor="middle" font-weight="bold" fill="#111" font-family='"Liberation Sans", sans-serif' >45</text>
<line x1="220.20" y1="525.40" x2="220.20" y2="527.80" stroke="#111" stroke-width="0.9" />
<text x="220.20" y="535.40" font-size="6.4" text-anchor="middle" font-weight="bold" fill="#111" font-family='"Liberation Sans", sans-serif' >50</text>
<text x="132.30" y="546.30" font-size="8.6" text-anchor="middle" font-weight="bold" fill="#111" font-family='"Liberation Sans", sans-serif' >m/z</text>
<text x="0.00" y="0.00" font-size="7.4" text-anchor="middle" font-weight="bold" fill="#111" font-family='"Liberation Sans", sans-serif' transform="translate(18.3,449) rotate(-90)">Intensity (a.u.)</text>
<text x="41.20" y="501.20" font-size="8.7" text-anchor="start" font-weight="bold" fill="#111" font-family='"Liberation Sans", sans-serif' ><tspan font-size="5.4" dy="-3">13</tspan><tspan dy="3">CH<tspan font-size="6.09" dy="2.17">4</tspan><tspan dy="-2.17"></tspan></tspan></text>
<text x="101.40" y="450.80" font-size="8.7" text-anchor="start" font-weight="bold" fill="#111" font-family='"Liberation Sans", sans-serif' ><tspan font-size="5.4" dy="-3">13</tspan><tspan dy="3">CO</tspan></text>
<text x="120.70" y="483.60" font-size="8.7" text-anchor="start" font-weight="bold" fill="#111" font-family='"Liberation Sans", sans-serif' ><tspan font-size="5.4" dy="-3">13</tspan><tspan dy="3">CH<tspan font-size="6.09" dy="2.17">3</tspan><tspan dy="-2.17">OH</tspan></tspan></text>
<text x="182.80" y="410.30" font-size="8.7" text-anchor="start" font-weight="bold" fill="#111" font-family='"Liberation Sans", sans-serif' ><tspan font-size="5.4" dy="-3">13</tspan><tspan dy="3">CO<tspan font-size="6.09" dy="2.17">2</tspan><tspan dy="-2.17"></tspan></tspan></text>
<text x="240.30" y="376.20" font-size="15.5" text-anchor="start" font-weight="bold" fill="#111" font-family='"Liberation Sans", sans-serif' >h</text>
<rect x="276.70" y="523.28" width="5.80" height="2.72" fill="#ef8a38" />
<text x="0.00" y="0.00" font-size="9.0" text-anchor="start" font-weight="normal" fill="#111" font-family='"Liberation Sans", sans-serif' stroke="#111" stroke-width="0.3" transform="translate(282.70,521.48) rotate(-90)">CuZn@UiO-bpy</text>
<rect x="292.19" y="523.28" width="5.80" height="2.72" fill="#ef8a38" />
<text x="0.00" y="0.00" font-size="9.0" text-anchor="start" font-weight="normal" fill="#111" font-family='"Liberation Sans", sans-serif' stroke="#111" stroke-width="0.3" transform="translate(298.19,521.48) rotate(-90)">CeO<tspan font-size="6.12" dy="3.24">2</tspan><tspan dy="-3.24"></tspan>-TiO<tspan font-size="6.12" dy="3.24">2</tspan><tspan dy="-3.24"></tspan></text>
<rect x="307.68" y="521.01" width="5.80" height="4.99" fill="#ef8a38" />
<text x="0.00" y="0.00" font-size="9.0" text-anchor="start" font-weight="normal" fill="#111" font-family='"Liberation Sans", sans-serif' stroke="#111" stroke-width="0.3" transform="translate(313.68,519.21) rotate(-90)">CuSAs@UiO-66-NH<tspan font-size="6.12" dy="3.24">2</tspan><tspan dy="-3.24"></tspan></text>
<rect x="323.17" y="521.01" width="5.80" height="4.99" fill="#ef8a38" />
<text x="0.00" y="0.00" font-size="9.0" text-anchor="start" font-weight="normal" fill="#111" font-family='"Liberation Sans", sans-serif' stroke="#111" stroke-width="0.3" transform="translate(329.17,519.21) rotate(-90)">g-C<tspan font-size="6.12" dy="3.24">3</tspan><tspan dy="-3.24"></tspan>N<tspan font-size="6.12" dy="3.24">4</tspan><tspan dy="-3.24"></tspan>/ZnO</text>
<rect x="338.66" y="520.19" width="5.80" height="5.81" fill="#ef8a38" />
<text x="0.00" y="0.00" font-size="9.0" text-anchor="start" font-weight="normal" fill="#111" font-family='"Liberation Sans", sans-serif' stroke="#111" stroke-width="0.3" transform="translate(344.66,518.39) rotate(-90)">CdZnS@UiO-66-NH<tspan font-size="6.12" dy="3.24">2</tspan><tspan dy="-3.24"></tspan></text>
<rect x="354.15" y="519.01" width="5.80" height="6.99" fill="#ef8a38" />
<text x="0.00" y="0.00" font-size="9.0" text-anchor="start" font-weight="normal" fill="#111" font-family='"Liberation Sans", sans-serif' stroke="#111" stroke-width="0.3" transform="translate(360.15,517.21) rotate(-90)">Cu/Pt-HCa<tspan font-size="6.12" dy="3.24">2</tspan><tspan dy="-3.24"></tspan>Ta<tspan font-size="6.12" dy="3.24">3</tspan><tspan dy="-3.24"></tspan>O<tspan font-size="6.12" dy="3.24">10</tspan><tspan dy="-3.24"></tspan></text>
<rect x="369.64" y="516.74" width="5.80" height="9.26" fill="#ef8a38" />
<text x="0.00" y="0.00" font-size="9.0" text-anchor="start" font-weight="normal" fill="#111" font-family='"Liberation Sans", sans-serif' stroke="#111" stroke-width="0.3" transform="translate(375.64,514.94) rotate(-90)">Cu-TiO<tspan font-size="6.12" dy="3.24">2</tspan><tspan dy="-3.24"></tspan></text>
<rect x="385.13" y="515.38" width="5.80" height="10.62" fill="#ef8a38" />
<text x="0.00" y="0.00" font-size="9.0" text-anchor="start" font-weight="normal" fill="#111" font-family='"Liberation Sans", sans-serif' stroke="#111" stroke-width="0.3" transform="translate(391.13,513.58) rotate(-90)">CdZnS/CN</text>
<rect x="400.62" y="512.84" width="5.80" height="13.16" fill="#ef8a38" />
<text x="0.00" y="0.00" font-size="9.0" text-anchor="start" font-weight="normal" fill="#111" font-family='"Liberation Sans", sans-serif' stroke="#111" stroke-width="0.3" transform="translate(406.62,511.04) rotate(-90)">C<tspan font-size="6.12" dy="3.24">3</tspan><tspan dy="-3.24"></tspan>N<tspan font-size="6.12" dy="3.24">4</tspan><tspan dy="-3.24"></tspan>/WO<tspan font-size="6.12" dy="3.24">3</tspan><tspan dy="-3.24"></tspan></text>
<rect x="416.11" y="509.67" width="5.80" height="16.34" fill="#ef8a38" />
<text x="0.00" y="0.00" font-size="9.0" text-anchor="start" font-weight="normal" fill="#111" font-family='"Liberation Sans", sans-serif' stroke="#111" stroke-width="0.3" transform="translate(422.11,507.87) rotate(-90)">Cu-ZIF-N<tspan font-size="6.12" dy="3.24">2</tspan><tspan dy="-3.24"></tspan></text>
<rect x="431.60" y="507.58" width="5.80" height="18.42" fill="#ef8a38" />
<text x="0.00" y="0.00" font-size="9.0" text-anchor="start" font-weight="normal" fill="#111" font-family='"Liberation Sans", sans-serif' stroke="#111" stroke-width="0.3" transform="translate(437.60,505.78) rotate(-90)">Cu/pCN</text>
<rect x="447.09" y="506.94" width="5.80" height="19.06" fill="#ef8a38" />
<text x="0.00" y="0.00" font-size="9.0" text-anchor="start" font-weight="normal" fill="#111" font-family='"Liberation Sans", sans-serif' stroke="#111" stroke-width="0.3" transform="translate(453.09,505.14) rotate(-90)">Ag/ZnIn<tspan font-size="6.12" dy="3.24">2</tspan><tspan dy="-3.24"></tspan>S<tspan font-size="6.12" dy="3.24">4</tspan><tspan dy="-3.24"></tspan>/TiO<tspan font-size="6.12" dy="3.24">2</tspan><tspan dy="-3.24"></tspan></text>
<rect x="462.58" y="503.68" width="5.80" height="22.32" fill="#ef8a38" />
<text x="0.00" y="0.00" font-size="9.0" text-anchor="start" font-weight="normal" fill="#111" font-family='"Liberation Sans", sans-serif' stroke="#111" stroke-width="0.3" transform="translate(468.58,501.88) rotate(-90)">Au/C<tspan font-size="6.12" dy="3.24">3</tspan><tspan dy="-3.24"></tspan>N<tspan font-size="6.12" dy="3.24">4</tspan><tspan dy="-3.24"></tspan>/WO<tspan font-size="6.12" dy="3.24">3</tspan><tspan dy="-3.24"></tspan></text>
<rect x="478.07" y="494.42" width="5.80" height="31.58" fill="#ef8a38" />
<text x="0.00" y="0.00" font-size="9.0" text-anchor="start" font-weight="normal" fill="#111" font-family='"Liberation Sans", sans-serif' stroke="#111" stroke-width="0.3" transform="translate(484.07,492.62) rotate(-90)">O-ZnO/rGO/UiO-66-NH<tspan font-size="6.12" dy="3.24">2</tspan><tspan dy="-3.24"></tspan></text>
<rect x="493.56" y="493.24" width="5.80" height="32.76" fill="#ef8a38" />
<text x="0.00" y="0.00" font-size="9.0" text-anchor="start" font-weight="normal" fill="#111" font-family='"Liberation Sans", sans-serif' stroke="#111" stroke-width="0.3" transform="translate(499.56,491.44) rotate(-90)">rGO-Cu<tspan font-size="6.12" dy="3.24">2</tspan><tspan dy="-3.24"></tspan>O</text>
<rect x="509.05" y="492.15" width="5.80" height="33.85" fill="#ef8a38" />
<text x="0.00" y="0.00" font-size="9.0" text-anchor="start" font-weight="normal" fill="#111" font-family='"Liberation Sans", sans-serif' stroke="#111" stroke-width="0.3" transform="translate(515.05,490.35) rotate(-90)">AgX:Ag (X=Cl, Br)</text>
<rect x="524.54" y="488.79" width="5.80" height="37.21" fill="#ef8a38" />
<text x="0.00" y="0.00" font-size="9.0" text-anchor="start" font-weight="normal" fill="#111" font-family='"Liberation Sans", sans-serif' stroke="#111" stroke-width="0.3" transform="translate(530.54,486.99) rotate(-90)">Ce-MOF/Bi<tspan font-size="6.12" dy="3.24">2</tspan><tspan dy="-3.24"></tspan>MoO<tspan font-size="6.12" dy="3.24">6</tspan><tspan dy="-3.24"></tspan></text>
<rect x="540.03" y="480.44" width="5.80" height="45.56" fill="#ef8a38" />
<text x="0.00" y="0.00" font-size="9.0" text-anchor="start" font-weight="normal" fill="#111" font-family='"Liberation Sans", sans-serif' stroke="#111" stroke-width="0.3" transform="translate(546.03,478.64) rotate(-90)">CuO@MIL-125(Ti)</text>
<rect x="555.52" y="478.72" width="5.80" height="47.28" fill="#ef8a38" />
<text x="0.00" y="0.00" font-size="9.0" text-anchor="start" font-weight="normal" fill="#111" font-family='"Liberation Sans", sans-serif' stroke="#111" stroke-width="0.3" transform="translate(561.52,476.92) rotate(-90)">CeO<tspan font-size="6.12" dy="3.24">2</tspan><tspan dy="-3.24"></tspan>-NG-Cu<tspan font-size="6.12" dy="-3.42">2+</tspan><tspan dy="3.42"></tspan></text>
<rect x="571.01" y="472.46" width="5.80" height="53.54" fill="#ef8a38" />
<text x="0.00" y="0.00" font-size="9.0" text-anchor="start" font-weight="normal" fill="#111" font-family='"Liberation Sans", sans-serif' stroke="#111" stroke-width="0.3" transform="translate(577.01,470.66) rotate(-90)">CS@Pd</text>
<rect x="586.50" y="469.92" width="5.80" height="56.08" fill="#ef8a38" />
<text x="0.00" y="0.00" font-size="9.0" text-anchor="start" font-weight="normal" fill="#111" font-family='"Liberation Sans", sans-serif' stroke="#111" stroke-width="0.3" transform="translate(592.50,468.12) rotate(-90)">Bi<tspan font-size="6.12" dy="3.24">2</tspan><tspan dy="-3.24"></tspan>S<tspan font-size="6.12" dy="3.24">3</tspan><tspan dy="-3.24"></tspan></text>
<rect x="601.99" y="460.66" width="5.80" height="65.34" fill="#ef8a38" />
<text x="0.00" y="0.00" font-size="9.0" text-anchor="start" font-weight="normal" fill="#111" font-family='"Liberation Sans", sans-serif' stroke="#111" stroke-width="0.3" transform="translate(607.99,458.86) rotate(-90)">Pd-Cu-TiO<tspan font-size="6.12" dy="3.24">2</tspan><tspan dy="-3.24"></tspan></text>
<rect x="617.48" y="450.04" width="5.80" height="75.96" fill="#ef8a38" />
<text x="0.00" y="0.00" font-size="9.0" text-anchor="start" font-weight="normal" fill="#111" font-family='"Liberation Sans", sans-serif' stroke="#111" stroke-width="0.3" transform="translate(623.48,448.24) rotate(-90)">Cu-TiO<tspan font-size="6.12" dy="3.24">2</tspan><tspan dy="-3.24"></tspan></text>
<rect x="632.97" y="444.32" width="5.80" height="81.67" fill="#ef8a38" />
<text x="0.00" y="0.00" font-size="9.0" text-anchor="start" font-weight="normal" fill="#111" font-family='"Liberation Sans", sans-serif' stroke="#111" stroke-width="0.3" transform="translate(638.97,442.52) rotate(-90)">Cu/ZnO/g-C<tspan font-size="6.12" dy="3.24">3</tspan><tspan dy="-3.24"></tspan>N<tspan font-size="6.12" dy="3.24">4</tspan><tspan dy="-3.24"></tspan></text>
<rect x="648.46" y="394.41" width="5.80" height="131.59" fill="#ef8a38" />
<text x="0.00" y="0.00" font-size="9.0" text-anchor="start" font-weight="normal" fill="#111" font-family='"Liberation Sans", sans-serif' stroke="#111" stroke-width="0.3" transform="translate(654.46,392.61) rotate(-90)">CdS</text>
<rect x="663.95" y="386.88" width="5.80" height="139.12" fill="#ef8a38" />
<path d="M664.60,374.00 L666.23,378.36 L670.88,378.56 L667.24,381.46 L668.48,385.94 L664.60,383.37 L660.72,385.94 L661.96,381.46 L658.32,378.56 L662.97,378.36 Z" stroke="none" stroke-width="1" fill="#f01e1e" />
<text x="0.00" y="0.00" font-size="9.0" text-anchor="start" font-weight="normal" fill="#f01e1e" font-family='"Liberation Sans", sans-serif' stroke="#f01e1e" stroke-width="0.3" transform="translate(675.55,413.4) rotate(-90)">This work</text>
<rect x="268.30" y="371.70" width="411.50" height="154.30" fill="none" stroke="#111" stroke-width="1.1"/>
<line x1="265.70" y1="526.00" x2="268.30" y2="526.00" stroke="#111" stroke-width="1" />
<text x="260.90" y="528.40" font-size="6.9" text-anchor="end" font-weight="bold" fill="#111" font-family='"Liberation Sans", sans-serif' >0</text>
<line x1="266.80" y1="516.92" x2="268.30" y2="516.92" stroke="#111" stroke-width="0.8" />
<line x1="265.70" y1="507.85" x2="268.30" y2="507.85" stroke="#111" stroke-width="1" />
<text x="260.90" y="510.25" font-size="6.9" text-anchor="end" font-weight="bold" fill="#111" font-family='"Liberation Sans", sans-serif' >20</text>
<line x1="266.80" y1="498.78" x2="268.30" y2="498.78" stroke="#111" stroke-width="0.8" />
<line x1="265.70" y1="489.70" x2="268.30" y2="489.70" stroke="#111" stroke-width="1" />
<text x="260.90" y="492.10" font-size="6.9" text-anchor="end" font-weight="bold" fill="#111" font-family='"Liberation Sans", sans-serif' >40</text>
<line x1="266.80" y1="480.62" x2="268.30" y2="480.62" stroke="#111" stroke-width="0.8" />
<line x1="265.70" y1="471.55" x2="268.30" y2="471.55" stroke="#111" stroke-width="1" />
<text x="260.90" y="473.95" font-size="6.9" text-anchor="end" font-weight="bold" fill="#111" font-family='"Liberation Sans", sans-serif' >60</text>
<line x1="266.80" y1="462.48" x2="268.30" y2="462.48" stroke="#111" stroke-width="0.8" />
<line x1="265.70" y1="453.40" x2="268.30" y2="453.40" stroke="#111" stroke-width="1" />
<text x="260.90" y="455.80" font-size="6.9" text-anchor="end" font-weight="bold" fill="#111" font-family='"Liberation Sans", sans-serif' >80</text>
<line x1="266.80" y1="444.32" x2="268.30" y2="444.32" stroke="#111" stroke-width="0.8" />
<line x1="265.70" y1="435.25" x2="268.30" y2="435.25" stroke="#111" stroke-width="1" />
<text x="260.90" y="437.65" font-size="6.9" text-anchor="end" font-weight="bold" fill="#111" font-family='"Liberation Sans", sans-serif' >100</text>
<line x1="266.80" y1="426.18" x2="268.30" y2="426.18" stroke="#111" stroke-width="0.8" />
<line x1="265.70" y1="417.10" x2="268.30" y2="417.10" stroke="#111" stroke-width="1" />
<text x="260.90" y="419.50" font-size="6.9" text-anchor="end" font-weight="bold" fill="#111" font-family='"Liberation Sans", sans-serif' >120</text>
<line x1="266.80" y1="408.03" x2="268.30" y2="408.03" stroke="#111" stroke-width="0.8" />
<line x1="265.70" y1="398.95" x2="268.30" y2="398.95" stroke="#111" stroke-width="1" />
<text x="260.90" y="401.35" font-size="6.9" text-anchor="end" font-weight="bold" fill="#111" font-family='"Liberation Sans", sans-serif' >140</text>
<line x1="266.80" y1="389.88" x2="268.30" y2="389.88" stroke="#111" stroke-width="0.8" />
<line x1="265.70" y1="380.80" x2="268.30" y2="380.80" stroke="#111" stroke-width="1" />
<text x="260.90" y="383.20" font-size="6.9" text-anchor="end" font-weight="bold" fill="#111" font-family='"Liberation Sans", sans-serif' >160</text>
<text x="0.00" y="0.00" font-size="8.6" text-anchor="middle" font-weight="bold" fill="#111" font-family='"Liberation Sans", sans-serif' transform="translate(245.8,446.7) rotate(-90)">CH<tspan font-size="5.6" dy="2">3</tspan><tspan dy="-2">OH yield (μmol g</tspan><tspan font-size="5.4" dy="-3">-1</tspan><tspan dy="3"> h</tspan><tspan font-size="5.4" dy="-3">-1</tspan><tspan dy="3">)</tspan></text>
</svg></body></html>
